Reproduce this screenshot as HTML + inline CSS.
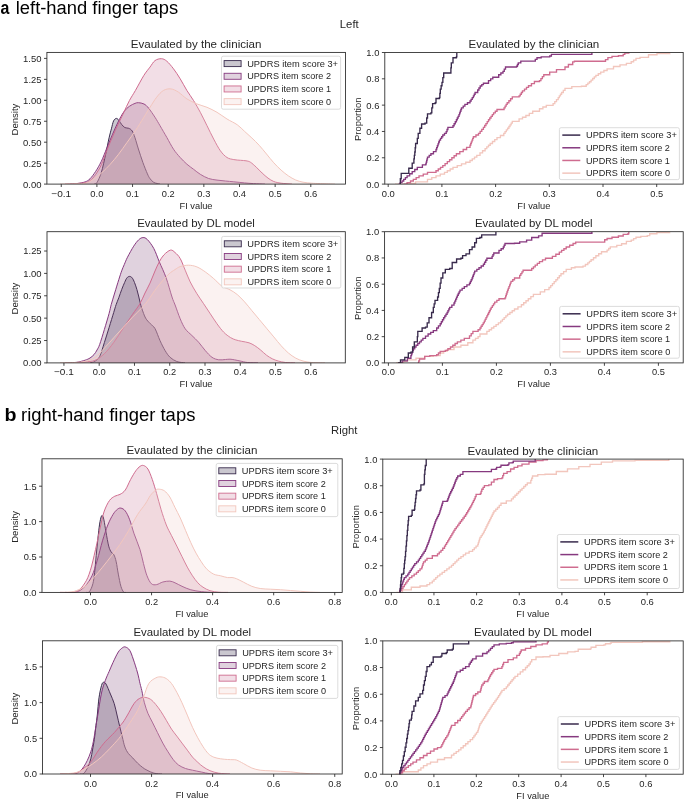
<!DOCTYPE html><html><head><meta charset="utf-8"><style>html,body{margin:0;padding:0;background:#fff;}svg{display:block;filter:blur(0.3px);}text{font-family:"Liberation Sans",sans-serif;}</style></head><body>
<svg width="685" height="800" viewBox="0 0 685 800">
<rect width="685" height="800" fill="#ffffff"/>
<text x="0.43" y="13.90" font-size="17.60" fill="#000" font-weight="bold" textLength="8.87" lengthAdjust="spacingAndGlyphs">a</text>
<text x="15.76" y="13.90" font-size="17.60" fill="#000" font-weight="normal" textLength="162.39" lengthAdjust="spacingAndGlyphs">left-hand finger taps</text>
<text x="4.50" y="420.50" font-size="17.60" fill="#000" font-weight="bold" textLength="12.00" lengthAdjust="spacingAndGlyphs">b</text>
<text x="21.08" y="420.50" font-size="17.60" fill="#000" font-weight="normal" textLength="174.28" lengthAdjust="spacingAndGlyphs">right-hand finger taps</text>
<text x="339.85" y="27.80" font-size="11.05" fill="#262626" font-weight="normal" textLength="18.85" lengthAdjust="spacingAndGlyphs">Left</text>
<text x="331.04" y="433.90" font-size="11.05" fill="#262626" font-weight="normal" textLength="26.48" lengthAdjust="spacingAndGlyphs">Right</text>
<clipPath id="c0"><rect x="46.9" y="52.4" width="298.6" height="131.7"/></clipPath>
<g clip-path="url(#c0)">
<path d="M94.00,184.10 C94.47,183.88 95.58,184.72 96.80,182.80 C98.02,180.88 99.80,177.48 101.30,172.60 C102.80,167.72 104.50,159.30 105.80,153.50 C107.10,147.70 108.17,141.92 109.10,137.80 C110.03,133.68 110.65,131.62 111.40,128.80 C112.15,125.98 112.75,122.63 113.60,120.90 C114.45,119.17 115.55,118.40 116.50,118.40 C117.45,118.40 118.47,119.92 119.30,120.90 C120.13,121.88 120.57,123.18 121.50,124.30 C122.43,125.42 123.68,126.93 124.90,127.60 C126.12,128.27 127.58,127.73 128.80,128.30 C130.02,128.87 131.17,129.42 132.20,131.00 C133.23,132.58 133.97,134.80 135.00,137.80 C136.03,140.80 137.08,144.88 138.40,149.00 C139.72,153.12 141.40,158.37 142.90,162.50 C144.40,166.63 146.22,171.12 147.40,173.80 C148.58,176.48 148.93,177.17 150.00,178.60 C151.07,180.03 152.13,181.48 153.80,182.40 C155.47,183.32 158.97,183.82 160.00,184.10 L160.00,184.10 L94.00,184.10 Z" fill="#2d1e3e" fill-opacity="0.25" stroke="none"/>
<path d="M94.00,184.10 C94.47,183.88 95.58,184.72 96.80,182.80 C98.02,180.88 99.80,177.48 101.30,172.60 C102.80,167.72 104.50,159.30 105.80,153.50 C107.10,147.70 108.17,141.92 109.10,137.80 C110.03,133.68 110.65,131.62 111.40,128.80 C112.15,125.98 112.75,122.63 113.60,120.90 C114.45,119.17 115.55,118.40 116.50,118.40 C117.45,118.40 118.47,119.92 119.30,120.90 C120.13,121.88 120.57,123.18 121.50,124.30 C122.43,125.42 123.68,126.93 124.90,127.60 C126.12,128.27 127.58,127.73 128.80,128.30 C130.02,128.87 131.17,129.42 132.20,131.00 C133.23,132.58 133.97,134.80 135.00,137.80 C136.03,140.80 137.08,144.88 138.40,149.00 C139.72,153.12 141.40,158.37 142.90,162.50 C144.40,166.63 146.22,171.12 147.40,173.80 C148.58,176.48 148.93,177.17 150.00,178.60 C151.07,180.03 152.13,181.48 153.80,182.40 C155.47,183.32 158.97,183.82 160.00,184.10" fill="none" stroke="#382a4c" stroke-width="1.0" stroke-linejoin="round"/>
<path d="M70.00,184.10 C71.17,184.02 74.48,183.97 77.00,183.60 C79.52,183.23 82.93,182.70 85.10,181.90 C87.27,181.10 88.25,180.53 90.00,178.80 C91.75,177.07 93.72,174.40 95.60,171.50 C97.48,168.60 99.42,165.33 101.30,161.40 C103.18,157.47 105.03,152.40 106.90,147.90 C108.77,143.40 110.63,138.72 112.50,134.40 C114.37,130.08 116.22,125.75 118.10,122.00 C119.98,118.25 121.92,114.52 123.80,111.90 C125.68,109.28 127.53,107.72 129.40,106.30 C131.27,104.88 133.50,104.00 135.00,103.40 C136.50,102.80 136.90,102.60 138.40,102.70 C139.90,102.80 142.32,103.12 144.00,104.00 C145.68,104.88 146.67,105.78 148.50,108.00 C150.33,110.22 153.08,114.35 155.00,117.30 C156.92,120.25 158.03,122.35 160.00,125.70 C161.97,129.05 164.55,133.48 166.80,137.40 C169.05,141.32 171.27,145.85 173.50,149.20 C175.73,152.55 177.97,155.00 180.20,157.50 C182.43,160.00 184.67,162.23 186.90,164.20 C189.13,166.17 191.37,167.62 193.60,169.30 C195.83,170.98 197.80,172.77 200.30,174.30 C202.80,175.83 205.82,177.53 208.60,178.50 C211.38,179.47 214.20,179.68 217.00,180.10 C219.80,180.52 222.60,180.72 225.40,181.00 C228.20,181.28 230.60,181.48 233.80,181.80 C237.00,182.12 241.33,182.60 244.60,182.90 C247.87,183.20 250.00,183.40 253.40,183.60 C256.80,183.80 263.07,184.02 265.00,184.10 L265.00,184.10 L70.00,184.10 Z" fill="#834c7d" fill-opacity="0.25" stroke="none"/>
<path d="M70.00,184.10 C71.17,184.02 74.48,183.97 77.00,183.60 C79.52,183.23 82.93,182.70 85.10,181.90 C87.27,181.10 88.25,180.53 90.00,178.80 C91.75,177.07 93.72,174.40 95.60,171.50 C97.48,168.60 99.42,165.33 101.30,161.40 C103.18,157.47 105.03,152.40 106.90,147.90 C108.77,143.40 110.63,138.72 112.50,134.40 C114.37,130.08 116.22,125.75 118.10,122.00 C119.98,118.25 121.92,114.52 123.80,111.90 C125.68,109.28 127.53,107.72 129.40,106.30 C131.27,104.88 133.50,104.00 135.00,103.40 C136.50,102.80 136.90,102.60 138.40,102.70 C139.90,102.80 142.32,103.12 144.00,104.00 C145.68,104.88 146.67,105.78 148.50,108.00 C150.33,110.22 153.08,114.35 155.00,117.30 C156.92,120.25 158.03,122.35 160.00,125.70 C161.97,129.05 164.55,133.48 166.80,137.40 C169.05,141.32 171.27,145.85 173.50,149.20 C175.73,152.55 177.97,155.00 180.20,157.50 C182.43,160.00 184.67,162.23 186.90,164.20 C189.13,166.17 191.37,167.62 193.60,169.30 C195.83,170.98 197.80,172.77 200.30,174.30 C202.80,175.83 205.82,177.53 208.60,178.50 C211.38,179.47 214.20,179.68 217.00,180.10 C219.80,180.52 222.60,180.72 225.40,181.00 C228.20,181.28 230.60,181.48 233.80,181.80 C237.00,182.12 241.33,182.60 244.60,182.90 C247.87,183.20 250.00,183.40 253.40,183.60 C256.80,183.80 263.07,184.02 265.00,184.10" fill="none" stroke="#86397f" stroke-width="1.0" stroke-linejoin="round"/>
<path d="M65.00,184.10 C66.67,184.02 71.65,183.83 75.00,183.60 C78.35,183.37 82.60,183.20 85.10,182.70 C87.60,182.20 88.25,181.97 90.00,180.60 C91.75,179.23 93.72,177.13 95.60,174.50 C97.48,171.87 99.42,168.83 101.30,164.80 C103.18,160.77 105.03,154.97 106.90,150.30 C108.77,145.63 110.63,141.13 112.50,136.80 C114.37,132.47 116.22,128.37 118.10,124.30 C119.98,120.23 121.92,116.35 123.80,112.40 C125.68,108.45 127.47,104.25 129.40,100.60 C131.33,96.95 133.00,94.68 135.40,90.50 C137.80,86.32 141.37,79.40 143.80,75.50 C146.23,71.60 148.13,69.58 150.00,67.10 C151.87,64.62 153.10,62.00 155.00,60.60 C156.90,59.20 159.43,58.60 161.40,58.70 C163.37,58.80 164.78,59.52 166.80,61.20 C168.82,62.88 171.27,65.87 173.50,68.80 C175.73,71.73 177.97,75.18 180.20,78.80 C182.43,82.42 184.67,86.87 186.90,90.50 C189.13,94.13 191.37,96.97 193.60,100.60 C195.83,104.23 198.07,108.12 200.30,112.30 C202.53,116.48 204.77,121.23 207.00,125.70 C209.23,130.17 211.47,134.92 213.70,139.10 C215.93,143.28 218.18,147.73 220.40,150.80 C222.62,153.87 224.77,156.03 227.00,157.50 C229.23,158.97 231.55,159.13 233.80,159.60 C236.05,160.07 238.47,160.10 240.50,160.30 C242.53,160.50 244.35,160.48 246.00,160.80 C247.65,161.12 248.68,161.13 250.40,162.20 C252.12,163.27 254.35,165.40 256.30,167.20 C258.25,169.00 260.15,171.18 262.10,173.00 C264.05,174.82 266.05,176.68 268.00,178.10 C269.95,179.52 271.62,180.65 273.80,181.50 C275.98,182.35 278.07,182.77 281.10,183.20 C284.13,183.63 290.18,183.95 292.00,184.10 L292.00,184.10 L65.00,184.10 Z" fill="#cc7c9a" fill-opacity="0.25" stroke="none"/>
<path d="M65.00,184.10 C66.67,184.02 71.65,183.83 75.00,183.60 C78.35,183.37 82.60,183.20 85.10,182.70 C87.60,182.20 88.25,181.97 90.00,180.60 C91.75,179.23 93.72,177.13 95.60,174.50 C97.48,171.87 99.42,168.83 101.30,164.80 C103.18,160.77 105.03,154.97 106.90,150.30 C108.77,145.63 110.63,141.13 112.50,136.80 C114.37,132.47 116.22,128.37 118.10,124.30 C119.98,120.23 121.92,116.35 123.80,112.40 C125.68,108.45 127.47,104.25 129.40,100.60 C131.33,96.95 133.00,94.68 135.40,90.50 C137.80,86.32 141.37,79.40 143.80,75.50 C146.23,71.60 148.13,69.58 150.00,67.10 C151.87,64.62 153.10,62.00 155.00,60.60 C156.90,59.20 159.43,58.60 161.40,58.70 C163.37,58.80 164.78,59.52 166.80,61.20 C168.82,62.88 171.27,65.87 173.50,68.80 C175.73,71.73 177.97,75.18 180.20,78.80 C182.43,82.42 184.67,86.87 186.90,90.50 C189.13,94.13 191.37,96.97 193.60,100.60 C195.83,104.23 198.07,108.12 200.30,112.30 C202.53,116.48 204.77,121.23 207.00,125.70 C209.23,130.17 211.47,134.92 213.70,139.10 C215.93,143.28 218.18,147.73 220.40,150.80 C222.62,153.87 224.77,156.03 227.00,157.50 C229.23,158.97 231.55,159.13 233.80,159.60 C236.05,160.07 238.47,160.10 240.50,160.30 C242.53,160.50 244.35,160.48 246.00,160.80 C247.65,161.12 248.68,161.13 250.40,162.20 C252.12,163.27 254.35,165.40 256.30,167.20 C258.25,169.00 260.15,171.18 262.10,173.00 C264.05,174.82 266.05,176.68 268.00,178.10 C269.95,179.52 271.62,180.65 273.80,181.50 C275.98,182.35 278.07,182.77 281.10,183.20 C284.13,183.63 290.18,183.95 292.00,184.10" fill="none" stroke="#cf6c8f" stroke-width="1.0" stroke-linejoin="round"/>
<path d="M60.00,184.10 C62.50,184.05 70.82,183.93 75.00,183.80 C79.18,183.67 82.02,184.05 85.10,183.30 C88.18,182.55 90.70,181.08 93.50,179.30 C96.30,177.52 99.10,175.12 101.90,172.60 C104.70,170.08 107.52,167.27 110.30,164.20 C113.08,161.13 115.82,157.82 118.60,154.20 C121.38,150.58 124.20,146.42 127.00,142.50 C129.80,138.58 132.60,134.90 135.40,130.70 C138.20,126.50 141.37,121.20 143.80,117.30 C146.23,113.40 147.85,110.65 150.00,107.30 C152.15,103.95 154.47,100.00 156.70,97.20 C158.93,94.40 161.03,91.88 163.40,90.50 C165.77,89.12 168.38,88.62 170.90,88.90 C173.42,89.18 175.83,90.53 178.50,92.20 C181.17,93.87 183.83,96.95 186.90,98.90 C189.97,100.85 193.55,102.50 196.90,103.90 C200.25,105.30 203.65,105.90 207.00,107.30 C210.35,108.70 213.67,110.35 217.00,112.30 C220.33,114.25 223.62,116.92 227.00,119.00 C230.38,121.08 234.37,122.73 237.30,124.80 C240.23,126.87 242.17,129.20 244.60,131.40 C247.03,133.60 249.47,135.68 251.90,138.00 C254.33,140.32 256.77,142.63 259.20,145.30 C261.63,147.97 264.07,151.08 266.50,154.00 C268.93,156.92 271.37,160.12 273.80,162.80 C276.23,165.48 278.67,167.92 281.10,170.10 C283.53,172.28 285.97,174.25 288.40,175.90 C290.83,177.55 293.27,178.95 295.70,180.00 C298.13,181.05 300.32,181.67 303.00,182.20 C305.68,182.73 308.88,182.97 311.80,183.20 C314.72,183.43 316.63,183.45 320.50,183.60 C324.37,183.75 332.58,184.02 335.00,184.10 L335.00,184.10 L60.00,184.10 Z" fill="#efcdc6" fill-opacity="0.25" stroke="none"/>
<path d="M60.00,184.10 C62.50,184.05 70.82,183.93 75.00,183.80 C79.18,183.67 82.02,184.05 85.10,183.30 C88.18,182.55 90.70,181.08 93.50,179.30 C96.30,177.52 99.10,175.12 101.90,172.60 C104.70,170.08 107.52,167.27 110.30,164.20 C113.08,161.13 115.82,157.82 118.60,154.20 C121.38,150.58 124.20,146.42 127.00,142.50 C129.80,138.58 132.60,134.90 135.40,130.70 C138.20,126.50 141.37,121.20 143.80,117.30 C146.23,113.40 147.85,110.65 150.00,107.30 C152.15,103.95 154.47,100.00 156.70,97.20 C158.93,94.40 161.03,91.88 163.40,90.50 C165.77,89.12 168.38,88.62 170.90,88.90 C173.42,89.18 175.83,90.53 178.50,92.20 C181.17,93.87 183.83,96.95 186.90,98.90 C189.97,100.85 193.55,102.50 196.90,103.90 C200.25,105.30 203.65,105.90 207.00,107.30 C210.35,108.70 213.67,110.35 217.00,112.30 C220.33,114.25 223.62,116.92 227.00,119.00 C230.38,121.08 234.37,122.73 237.30,124.80 C240.23,126.87 242.17,129.20 244.60,131.40 C247.03,133.60 249.47,135.68 251.90,138.00 C254.33,140.32 256.77,142.63 259.20,145.30 C261.63,147.97 264.07,151.08 266.50,154.00 C268.93,156.92 271.37,160.12 273.80,162.80 C276.23,165.48 278.67,167.92 281.10,170.10 C283.53,172.28 285.97,174.25 288.40,175.90 C290.83,177.55 293.27,178.95 295.70,180.00 C298.13,181.05 300.32,181.67 303.00,182.20 C305.68,182.73 308.88,182.97 311.80,183.20 C314.72,183.43 316.63,183.45 320.50,183.60 C324.37,183.75 332.58,184.02 335.00,184.10" fill="none" stroke="#f2c6bd" stroke-width="1.0" stroke-linejoin="round"/>
</g>
<rect x="46.90" y="52.40" width="298.60" height="131.70" fill="none" stroke="#262626" stroke-width="0.85"/>
<line x1="61.25" y1="184.10" x2="61.25" y2="187.00" stroke="#262626" stroke-width="0.85"/>
<text x="51.33" y="196.60" font-size="9.21" fill="#262626" font-weight="normal" textLength="19.83" lengthAdjust="spacingAndGlyphs">−0.1</text>
<line x1="96.90" y1="184.10" x2="96.90" y2="187.00" stroke="#262626" stroke-width="0.85"/>
<text x="90.37" y="196.60" font-size="9.21" fill="#262626" font-weight="normal" textLength="13.05" lengthAdjust="spacingAndGlyphs">0.0</text>
<line x1="132.55" y1="184.10" x2="132.55" y2="187.00" stroke="#262626" stroke-width="0.85"/>
<text x="126.14" y="196.60" font-size="9.21" fill="#262626" font-weight="normal" textLength="12.92" lengthAdjust="spacingAndGlyphs">0.1</text>
<line x1="168.20" y1="184.10" x2="168.20" y2="187.00" stroke="#262626" stroke-width="0.85"/>
<text x="161.82" y="196.60" font-size="9.21" fill="#262626" font-weight="normal" textLength="12.86" lengthAdjust="spacingAndGlyphs">0.2</text>
<line x1="203.85" y1="184.10" x2="203.85" y2="187.00" stroke="#262626" stroke-width="0.85"/>
<text x="197.38" y="196.60" font-size="9.21" fill="#262626" font-weight="normal" textLength="12.98" lengthAdjust="spacingAndGlyphs">0.3</text>
<line x1="239.50" y1="184.10" x2="239.50" y2="187.00" stroke="#262626" stroke-width="0.85"/>
<text x="232.93" y="196.60" font-size="9.21" fill="#262626" font-weight="normal" textLength="13.05" lengthAdjust="spacingAndGlyphs">0.4</text>
<line x1="275.15" y1="184.10" x2="275.15" y2="187.00" stroke="#262626" stroke-width="0.85"/>
<text x="268.72" y="196.60" font-size="9.21" fill="#262626" font-weight="normal" textLength="12.89" lengthAdjust="spacingAndGlyphs">0.5</text>
<line x1="310.80" y1="184.10" x2="310.80" y2="187.00" stroke="#262626" stroke-width="0.85"/>
<text x="304.26" y="196.60" font-size="9.21" fill="#262626" font-weight="normal" textLength="13.13" lengthAdjust="spacingAndGlyphs">0.6</text>
<line x1="44.00" y1="184.10" x2="46.90" y2="184.10" stroke="#262626" stroke-width="0.85"/>
<text x="23.03" y="187.50" font-size="9.21" fill="#262626" font-weight="normal" textLength="18.44" lengthAdjust="spacingAndGlyphs">0.00</text>
<line x1="44.00" y1="163.15" x2="46.90" y2="163.15" stroke="#262626" stroke-width="0.85"/>
<text x="23.21" y="166.55" font-size="9.21" fill="#262626" font-weight="normal" textLength="18.28" lengthAdjust="spacingAndGlyphs">0.25</text>
<line x1="44.00" y1="142.20" x2="46.90" y2="142.20" stroke="#262626" stroke-width="0.85"/>
<text x="23.03" y="145.60" font-size="9.21" fill="#262626" font-weight="normal" textLength="18.44" lengthAdjust="spacingAndGlyphs">0.50</text>
<line x1="44.00" y1="121.25" x2="46.90" y2="121.25" stroke="#262626" stroke-width="0.85"/>
<text x="23.21" y="124.65" font-size="9.21" fill="#262626" font-weight="normal" textLength="18.28" lengthAdjust="spacingAndGlyphs">0.75</text>
<line x1="44.00" y1="100.30" x2="46.90" y2="100.30" stroke="#262626" stroke-width="0.85"/>
<text x="23.05" y="103.70" font-size="9.21" fill="#262626" font-weight="normal" textLength="18.42" lengthAdjust="spacingAndGlyphs">1.00</text>
<line x1="44.00" y1="79.35" x2="46.90" y2="79.35" stroke="#262626" stroke-width="0.85"/>
<text x="23.24" y="82.75" font-size="9.21" fill="#262626" font-weight="normal" textLength="18.26" lengthAdjust="spacingAndGlyphs">1.25</text>
<line x1="44.00" y1="58.40" x2="46.90" y2="58.40" stroke="#262626" stroke-width="0.85"/>
<text x="23.05" y="61.80" font-size="9.21" fill="#262626" font-weight="normal" textLength="18.42" lengthAdjust="spacingAndGlyphs">1.50</text>
<text x="130.70" y="47.80" font-size="11.05" fill="#262626" font-weight="normal" textLength="130.80" lengthAdjust="spacingAndGlyphs">Evaulated by the clinician</text>
<text x="179.52" y="208.50" font-size="9.21" fill="#262626" font-weight="normal" textLength="33.01" lengthAdjust="spacingAndGlyphs">FI value</text>
<text x="1.69" y="119.15" font-size="9.21" fill="#262626" font-weight="normal" textLength="31.84" lengthAdjust="spacingAndGlyphs" transform="rotate(-90 18.00 119.15)">Density</text>
<rect x="221.50" y="56.20" width="119.10" height="53.00" rx="1.7" fill="#ffffff" fill-opacity="0.8" stroke="#d6d6d6" stroke-width="0.85"/>
<rect x="224.10" y="60.60" width="17.0" height="6" fill="#2d1e3e" fill-opacity="0.25" stroke="#382a4c" stroke-width="0.9"/>
<text x="247.18" y="66.80" font-size="9.21" fill="#262626" font-weight="normal" textLength="90.87" lengthAdjust="spacingAndGlyphs">UPDRS item score 3+</text>
<rect x="224.10" y="73.28" width="17.0" height="6" fill="#834c7d" fill-opacity="0.25" stroke="#86397f" stroke-width="0.9"/>
<text x="247.20" y="79.48" font-size="9.21" fill="#262626" font-weight="normal" textLength="83.82" lengthAdjust="spacingAndGlyphs">UPDRS item score 2</text>
<rect x="224.10" y="85.96" width="17.0" height="6" fill="#cc7c9a" fill-opacity="0.25" stroke="#cf6c8f" stroke-width="0.9"/>
<text x="247.20" y="92.16" font-size="9.21" fill="#262626" font-weight="normal" textLength="83.88" lengthAdjust="spacingAndGlyphs">UPDRS item score 1</text>
<rect x="224.10" y="98.64" width="17.0" height="6" fill="#efcdc6" fill-opacity="0.25" stroke="#f2c6bd" stroke-width="0.9"/>
<text x="247.20" y="104.84" font-size="9.21" fill="#262626" font-weight="normal" textLength="84.01" lengthAdjust="spacingAndGlyphs">UPDRS item score 0</text>
<clipPath id="c1"><rect x="384.8" y="52.5" width="298.40000000000003" height="131.6"/></clipPath>
<g clip-path="url(#c1)">
<path d="M395.00,184.10 H407.10 V183.50 H415.60 V181.80 H427.50 V179.30 H431.75 V177.60 H436.00 V175.90 H440.25 V174.15 H444.50 V172.40 H447.33 V170.70 H450.17 V169.00 H453.00 V167.30 H457.25 V165.60 H461.50 V163.90 H465.75 V162.20 H470.00 V160.50 H472.27 V158.80 H474.53 V157.10 H476.80 V155.40 H480.00 V152.90 H482.55 V150.75 H485.10 V148.60 H486.80 V146.90 H488.50 V145.20 H490.20 V143.50 H492.47 V141.53 H494.73 V139.57 H497.00 V137.60 H500.40 V135.45 H503.80 V133.30 H505.07 V131.60 H506.35 V129.90 H507.62 V128.20 H508.90 V126.50 H510.03 V124.80 H511.17 V123.10 H512.30 V121.40 H519.10 V118.90 H522.50 V117.20 H525.90 V115.50 H529.30 V113.35 H532.70 V111.20 H539.50 V108.70 H542.90 V107.00 H546.30 V105.30 H553.10 V103.60 H554.80 V101.60 H556.50 V99.60 H558.20 V97.60 H559.33 V95.90 H560.47 V94.20 H561.60 V92.50 H563.30 V90.40 H565.00 V88.30 H571.80 V86.60 H581.40 V86.20 H586.20 V84.60 H587.85 V83.15 H589.50 V81.70 H591.10 V80.10 H592.70 V78.50 H594.30 V76.90 H595.90 V75.30 H598.30 V73.70 H600.70 V72.10 H603.90 V70.50 H607.10 V68.90 H613.50 V66.50 H620.00 V64.90 H626.40 V63.30 H631.20 V61.70 H633.60 V60.05 H636.00 V58.40 H640.00 V57.40 H648.50 V54.70 H657.00 V53.50 H670.00 V53.40" fill="none" stroke="#f2c6bd" stroke-width="1.35" stroke-linejoin="miter"/>
<path d="M403.70,184.10 H407.10 V182.55 H410.50 V181.00 H413.33 V179.30 H416.17 V177.60 H419.00 V175.90 H423.25 V174.15 H427.50 V172.40 H436.00 V170.70 H438.27 V169.00 H440.53 V167.30 H442.80 V165.60 H445.07 V163.63 H447.33 V161.67 H449.60 V159.70 H451.87 V157.70 H454.13 V155.70 H456.40 V153.70 H459.80 V151.60 H463.20 V149.50 H466.60 V147.35 H470.00 V145.20 H470.68 V143.50 H471.36 V141.80 H472.04 V140.10 H472.72 V138.40 H473.40 V136.70 H475.95 V135.00 H478.50 V133.30 H480.13 V131.33 H481.77 V129.37 H483.40 V127.40 H484.67 V125.48 H485.95 V123.55 H487.23 V121.62 H488.50 V119.70 H489.77 V118.00 H491.05 V116.30 H492.33 V114.60 H493.60 V112.90 H495.30 V111.20 H497.00 V109.50 H503.00 V109.50 H504.05 V107.80 H505.10 V106.10 H506.15 V104.40 H507.20 V102.70 H508.90 V100.73 H510.60 V98.77 H512.30 V96.80 H519.10 V95.90 H520.23 V94.20 H521.37 V92.50 H522.50 V90.80 H524.50 V89.10 H526.50 V87.40 H528.50 V85.70 H531.45 V83.60 H534.40 V81.50 H539.50 V80.60 H540.93 V78.63 H542.37 V76.67 H543.80 V74.70 H549.70 V72.10 H556.50 V69.60 H565.00 V67.00 H568.40 V64.50 H572.70 V61.90 H574.40 V61.20 H603.90 V61.20 H605.50 V59.60 H607.90 V57.60 H612.00 V56.40 H618.40 V55.70 H623.20 V54.40 H624.80 V53.10 H628.80 V52.50" fill="none" stroke="#cf6c8f" stroke-width="1.35" stroke-linejoin="miter"/>
<path d="M398.60,184.10 H400.30 V182.55 H402.00 V181.00 H403.70 V179.30 H405.40 V177.60 H407.10 V175.90 H409.65 V173.75 H412.20 V171.60 H414.75 V169.45 H417.30 V167.30 H422.40 V164.80 H425.80 V163.90 H426.23 V162.20 H426.65 V160.50 H427.07 V158.80 H427.50 V157.10 H429.20 V155.40 H430.90 V153.70 H433.45 V151.60 H436.00 V149.50 H436.68 V147.62 H437.36 V145.74 H438.04 V143.86 H438.72 V141.98 H439.40 V140.10 H440.53 V138.40 H441.67 V136.70 H442.80 V135.00 H444.50 V133.30 H446.20 V131.60 H447.05 V129.50 H447.90 V127.40 H453.00 V125.70 H454.13 V123.70 H455.27 V121.70 H456.40 V119.70 H457.27 V118.00 H458.13 V116.30 H459.00 V114.60 H459.62 V112.90 H460.25 V111.20 H460.88 V109.50 H461.50 V107.80 H463.20 V106.10 H464.90 V104.40 H467.45 V102.70 H470.00 V101.00 H471.13 V99.30 H472.27 V97.60 H473.40 V95.90 H474.25 V94.20 H475.10 V92.50 H477.70 V90.00 H478.95 V88.00 H480.20 V86.00 H481.80 V84.60 H483.40 V83.20 H488.50 V80.60 H490.65 V78.90 H492.80 V77.20 H498.70 V74.70 H500.85 V73.00 H503.00 V71.30 H504.25 V69.15 H505.50 V67.00 H516.60 V66.20 H517.45 V64.50 H518.30 V62.80 H520.80 V61.10 H535.30 V59.40 H537.00 V57.70 H541.20 V56.80 H549.70 V56.00 H551.40 V54.40 H591.00 V54.40 H591.90 V52.50" fill="none" stroke="#86397f" stroke-width="1.35" stroke-linejoin="miter"/>
<path d="M399.50,184.10 H400.35 V178.70 H401.20 V173.30 H408.00 V173.30 H408.80 V168.20 H411.40 V168.20 H412.20 V163.10 H413.90 V158.80 H414.35 V155.40 H414.80 V152.00 H415.20 V147.75 H415.60 V143.50 H417.30 V138.40 H418.20 V133.30 H419.90 V128.20 H421.60 V124.00 H425.00 V123.10 H426.70 V118.00 H427.50 V113.80 H430.90 V112.90 H431.80 V107.80 H432.60 V103.60 H435.20 V102.70 H436.00 V98.50 H439.40 V97.60 H439.85 V93.35 H440.30 V89.10 H441.15 V85.70 H442.00 V82.30 H442.85 V77.65 H443.70 V73.00 H450.50 V73.00 H450.90 V67.90 H451.30 V62.80 H453.00 V57.70 H456.40 V56.80 H456.80 V52.50" fill="none" stroke="#382a4c" stroke-width="1.35" stroke-linejoin="miter"/>
</g>
<rect x="384.80" y="52.50" width="298.40" height="131.60" fill="none" stroke="#262626" stroke-width="0.85"/>
<line x1="388.20" y1="184.10" x2="388.20" y2="187.00" stroke="#262626" stroke-width="0.85"/>
<text x="381.67" y="196.60" font-size="9.21" fill="#262626" font-weight="normal" textLength="13.05" lengthAdjust="spacingAndGlyphs">0.0</text>
<line x1="441.90" y1="184.10" x2="441.90" y2="187.00" stroke="#262626" stroke-width="0.85"/>
<text x="435.49" y="196.60" font-size="9.21" fill="#262626" font-weight="normal" textLength="12.92" lengthAdjust="spacingAndGlyphs">0.1</text>
<line x1="495.60" y1="184.10" x2="495.60" y2="187.00" stroke="#262626" stroke-width="0.85"/>
<text x="489.22" y="196.60" font-size="9.21" fill="#262626" font-weight="normal" textLength="12.86" lengthAdjust="spacingAndGlyphs">0.2</text>
<line x1="549.30" y1="184.10" x2="549.30" y2="187.00" stroke="#262626" stroke-width="0.85"/>
<text x="542.83" y="196.60" font-size="9.21" fill="#262626" font-weight="normal" textLength="12.98" lengthAdjust="spacingAndGlyphs">0.3</text>
<line x1="603.00" y1="184.10" x2="603.00" y2="187.00" stroke="#262626" stroke-width="0.85"/>
<text x="596.43" y="196.60" font-size="9.21" fill="#262626" font-weight="normal" textLength="13.05" lengthAdjust="spacingAndGlyphs">0.4</text>
<line x1="656.70" y1="184.10" x2="656.70" y2="187.00" stroke="#262626" stroke-width="0.85"/>
<text x="650.27" y="196.60" font-size="9.21" fill="#262626" font-weight="normal" textLength="12.89" lengthAdjust="spacingAndGlyphs">0.5</text>
<line x1="381.90" y1="184.10" x2="384.80" y2="184.10" stroke="#262626" stroke-width="0.85"/>
<text x="366.31" y="187.50" font-size="9.21" fill="#262626" font-weight="normal" textLength="13.05" lengthAdjust="spacingAndGlyphs">0.0</text>
<line x1="381.90" y1="157.78" x2="384.80" y2="157.78" stroke="#262626" stroke-width="0.85"/>
<text x="366.60" y="161.18" font-size="9.21" fill="#262626" font-weight="normal" textLength="12.86" lengthAdjust="spacingAndGlyphs">0.2</text>
<line x1="381.90" y1="131.46" x2="384.80" y2="131.46" stroke="#262626" stroke-width="0.85"/>
<text x="366.23" y="134.86" font-size="9.21" fill="#262626" font-weight="normal" textLength="13.05" lengthAdjust="spacingAndGlyphs">0.4</text>
<line x1="381.90" y1="105.14" x2="384.80" y2="105.14" stroke="#262626" stroke-width="0.85"/>
<text x="366.28" y="108.54" font-size="9.21" fill="#262626" font-weight="normal" textLength="13.13" lengthAdjust="spacingAndGlyphs">0.6</text>
<line x1="381.90" y1="78.82" x2="384.80" y2="78.82" stroke="#262626" stroke-width="0.85"/>
<text x="366.33" y="82.22" font-size="9.21" fill="#262626" font-weight="normal" textLength="13.08" lengthAdjust="spacingAndGlyphs">0.8</text>
<line x1="381.90" y1="52.50" x2="384.80" y2="52.50" stroke="#262626" stroke-width="0.85"/>
<text x="366.34" y="55.90" font-size="9.21" fill="#262626" font-weight="normal" textLength="13.03" lengthAdjust="spacingAndGlyphs">1.0</text>
<text x="468.50" y="47.90" font-size="11.05" fill="#262626" font-weight="normal" textLength="130.80" lengthAdjust="spacingAndGlyphs">Evaulated by the clinician</text>
<text x="517.32" y="208.50" font-size="9.21" fill="#262626" font-weight="normal" textLength="33.01" lengthAdjust="spacingAndGlyphs">FI value</text>
<text x="339.30" y="119.20" font-size="9.21" fill="#262626" font-weight="normal" textLength="43.43" lengthAdjust="spacingAndGlyphs" transform="rotate(-90 361.10 119.20)">Proportion</text>
<rect x="559.40" y="127.70" width="120.00" height="51.90" rx="1.7" fill="#ffffff" fill-opacity="0.8" stroke="#d6d6d6" stroke-width="0.85"/>
<line x1="562.30" y1="135.10" x2="580.30" y2="135.10" stroke="#382a4c" stroke-width="1.5"/>
<text x="585.98" y="138.30" font-size="9.21" fill="#262626" font-weight="normal" textLength="90.87" lengthAdjust="spacingAndGlyphs">UPDRS item score 3+</text>
<line x1="562.30" y1="147.78" x2="580.30" y2="147.78" stroke="#86397f" stroke-width="1.5"/>
<text x="586.00" y="150.98" font-size="9.21" fill="#262626" font-weight="normal" textLength="83.82" lengthAdjust="spacingAndGlyphs">UPDRS item score 2</text>
<line x1="562.30" y1="160.46" x2="580.30" y2="160.46" stroke="#cf6c8f" stroke-width="1.5"/>
<text x="586.00" y="163.66" font-size="9.21" fill="#262626" font-weight="normal" textLength="83.88" lengthAdjust="spacingAndGlyphs">UPDRS item score 1</text>
<line x1="562.30" y1="173.14" x2="580.30" y2="173.14" stroke="#f2c6bd" stroke-width="1.5"/>
<text x="586.00" y="176.34" font-size="9.21" fill="#262626" font-weight="normal" textLength="84.01" lengthAdjust="spacingAndGlyphs">UPDRS item score 0</text>
<clipPath id="c2"><rect x="47.0" y="231.7" width="298.3" height="131.2"/></clipPath>
<g clip-path="url(#c2)">
<path d="M90.00,362.90 C90.83,362.62 93.38,362.27 95.00,361.20 C96.62,360.13 98.13,359.62 99.70,356.50 C101.27,353.38 102.83,347.33 104.40,342.50 C105.97,337.67 107.55,332.50 109.10,327.50 C110.65,322.50 112.53,316.30 113.70,312.50 C114.87,308.70 115.25,307.17 116.10,304.70 C116.95,302.23 117.87,300.23 118.80,297.70 C119.73,295.17 120.73,292.03 121.70,289.50 C122.67,286.97 123.73,284.43 124.60,282.50 C125.47,280.57 126.07,278.92 126.90,277.90 C127.73,276.88 128.72,276.40 129.60,276.40 C130.48,276.40 131.38,276.88 132.20,277.90 C133.02,278.92 133.72,280.57 134.50,282.50 C135.28,284.43 136.22,287.25 136.90,289.50 C137.58,291.75 138.07,293.85 138.60,296.00 C139.13,298.15 139.55,300.28 140.10,302.40 C140.65,304.52 140.98,306.08 141.90,308.70 C142.82,311.32 144.20,315.60 145.60,318.10 C147.00,320.60 148.73,321.95 150.30,323.70 C151.87,325.45 153.38,325.78 155.00,328.60 C156.62,331.42 158.32,336.93 160.00,340.60 C161.68,344.27 163.42,347.82 165.10,350.60 C166.78,353.38 168.15,355.48 170.10,357.30 C172.05,359.12 174.32,360.57 176.80,361.50 C179.28,362.43 183.63,362.67 185.00,362.90 L185.00,362.90 L90.00,362.90 Z" fill="#2d1e3e" fill-opacity="0.25" stroke="none"/>
<path d="M90.00,362.90 C90.83,362.62 93.38,362.27 95.00,361.20 C96.62,360.13 98.13,359.62 99.70,356.50 C101.27,353.38 102.83,347.33 104.40,342.50 C105.97,337.67 107.55,332.50 109.10,327.50 C110.65,322.50 112.53,316.30 113.70,312.50 C114.87,308.70 115.25,307.17 116.10,304.70 C116.95,302.23 117.87,300.23 118.80,297.70 C119.73,295.17 120.73,292.03 121.70,289.50 C122.67,286.97 123.73,284.43 124.60,282.50 C125.47,280.57 126.07,278.92 126.90,277.90 C127.73,276.88 128.72,276.40 129.60,276.40 C130.48,276.40 131.38,276.88 132.20,277.90 C133.02,278.92 133.72,280.57 134.50,282.50 C135.28,284.43 136.22,287.25 136.90,289.50 C137.58,291.75 138.07,293.85 138.60,296.00 C139.13,298.15 139.55,300.28 140.10,302.40 C140.65,304.52 140.98,306.08 141.90,308.70 C142.82,311.32 144.20,315.60 145.60,318.10 C147.00,320.60 148.73,321.95 150.30,323.70 C151.87,325.45 153.38,325.78 155.00,328.60 C156.62,331.42 158.32,336.93 160.00,340.60 C161.68,344.27 163.42,347.82 165.10,350.60 C166.78,353.38 168.15,355.48 170.10,357.30 C172.05,359.12 174.32,360.57 176.80,361.50 C179.28,362.43 183.63,362.67 185.00,362.90" fill="none" stroke="#382a4c" stroke-width="1.0" stroke-linejoin="round"/>
<path d="M68.00,362.90 C69.45,362.80 73.85,362.75 76.70,362.30 C79.55,361.85 82.88,360.92 85.10,360.20 C87.32,359.48 88.52,358.93 90.00,358.00 C91.48,357.07 92.83,355.93 94.00,354.60 C95.17,353.27 96.05,351.70 97.00,350.00 C97.95,348.30 98.47,347.83 99.70,344.40 C100.93,340.97 102.83,334.57 104.40,329.40 C105.97,324.23 107.97,317.52 109.10,313.40 C110.23,309.28 110.27,308.10 111.20,304.70 C112.13,301.30 113.43,297.18 114.70,293.00 C115.97,288.82 117.63,283.30 118.80,279.60 C119.97,275.90 120.78,273.32 121.70,270.80 C122.62,268.28 123.33,266.77 124.30,264.50 C125.27,262.23 125.93,260.25 127.50,257.20 C129.07,254.15 131.83,249.10 133.70,246.20 C135.57,243.30 137.17,241.23 138.70,239.80 C140.23,238.37 141.47,237.65 142.90,237.60 C144.33,237.55 145.48,237.68 147.30,239.50 C149.12,241.32 151.80,244.78 153.80,248.50 C155.80,252.22 157.27,256.97 159.30,261.80 C161.33,266.63 163.88,271.63 166.00,277.50 C168.12,283.37 170.48,292.42 172.00,297.00 C173.52,301.58 173.73,301.37 175.10,305.00 C176.47,308.63 178.52,314.83 180.20,318.80 C181.88,322.77 183.25,326.02 185.20,328.80 C187.15,331.58 189.67,333.27 191.90,335.50 C194.13,337.73 196.37,339.68 198.60,342.20 C200.83,344.72 203.07,348.08 205.30,350.60 C207.53,353.12 209.77,355.77 212.00,357.30 C214.23,358.83 216.47,359.43 218.70,359.80 C220.93,360.17 223.52,359.60 225.40,359.50 C227.28,359.40 228.50,359.15 230.00,359.20 C231.50,359.25 232.70,359.50 234.40,359.80 C236.10,360.10 238.02,360.55 240.20,361.00 C242.38,361.45 244.53,362.18 247.50,362.50 C250.47,362.82 256.25,362.83 258.00,362.90 L258.00,362.90 L68.00,362.90 Z" fill="#834c7d" fill-opacity="0.25" stroke="none"/>
<path d="M68.00,362.90 C69.45,362.80 73.85,362.75 76.70,362.30 C79.55,361.85 82.88,360.92 85.10,360.20 C87.32,359.48 88.52,358.93 90.00,358.00 C91.48,357.07 92.83,355.93 94.00,354.60 C95.17,353.27 96.05,351.70 97.00,350.00 C97.95,348.30 98.47,347.83 99.70,344.40 C100.93,340.97 102.83,334.57 104.40,329.40 C105.97,324.23 107.97,317.52 109.10,313.40 C110.23,309.28 110.27,308.10 111.20,304.70 C112.13,301.30 113.43,297.18 114.70,293.00 C115.97,288.82 117.63,283.30 118.80,279.60 C119.97,275.90 120.78,273.32 121.70,270.80 C122.62,268.28 123.33,266.77 124.30,264.50 C125.27,262.23 125.93,260.25 127.50,257.20 C129.07,254.15 131.83,249.10 133.70,246.20 C135.57,243.30 137.17,241.23 138.70,239.80 C140.23,238.37 141.47,237.65 142.90,237.60 C144.33,237.55 145.48,237.68 147.30,239.50 C149.12,241.32 151.80,244.78 153.80,248.50 C155.80,252.22 157.27,256.97 159.30,261.80 C161.33,266.63 163.88,271.63 166.00,277.50 C168.12,283.37 170.48,292.42 172.00,297.00 C173.52,301.58 173.73,301.37 175.10,305.00 C176.47,308.63 178.52,314.83 180.20,318.80 C181.88,322.77 183.25,326.02 185.20,328.80 C187.15,331.58 189.67,333.27 191.90,335.50 C194.13,337.73 196.37,339.68 198.60,342.20 C200.83,344.72 203.07,348.08 205.30,350.60 C207.53,353.12 209.77,355.77 212.00,357.30 C214.23,358.83 216.47,359.43 218.70,359.80 C220.93,360.17 223.52,359.60 225.40,359.50 C227.28,359.40 228.50,359.15 230.00,359.20 C231.50,359.25 232.70,359.50 234.40,359.80 C236.10,360.10 238.02,360.55 240.20,361.00 C242.38,361.45 244.53,362.18 247.50,362.50 C250.47,362.82 256.25,362.83 258.00,362.90" fill="none" stroke="#86397f" stroke-width="1.0" stroke-linejoin="round"/>
<path d="M65.00,362.90 C66.83,362.85 72.65,362.77 76.00,362.60 C79.35,362.43 81.93,362.28 85.10,361.90 C88.27,361.52 91.78,361.67 95.00,360.30 C98.22,358.93 101.28,356.67 104.40,353.70 C107.52,350.73 110.58,346.72 113.70,342.50 C116.82,338.28 119.97,333.08 123.10,328.40 C126.23,323.72 129.68,318.53 132.50,314.40 C135.32,310.27 137.92,307.17 140.00,303.60 C142.08,300.03 143.33,296.42 145.00,293.00 C146.67,289.58 148.33,286.77 150.00,283.10 C151.67,279.43 153.45,274.55 155.00,271.00 C156.55,267.45 157.83,264.47 159.30,261.80 C160.77,259.13 161.93,256.95 163.80,255.00 C165.67,253.05 168.62,250.50 170.50,250.10 C172.38,249.70 173.48,251.20 175.10,252.60 C176.72,254.00 178.52,255.57 180.20,258.50 C181.88,261.43 183.53,266.30 185.20,270.20 C186.87,274.10 188.25,277.98 190.20,281.90 C192.15,285.82 194.67,290.07 196.90,293.70 C199.13,297.33 201.37,300.35 203.60,303.70 C205.83,307.05 208.07,310.45 210.30,313.80 C212.53,317.15 214.77,320.73 217.00,323.80 C219.23,326.87 221.47,329.92 223.70,332.20 C225.93,334.48 228.38,336.22 230.40,337.50 C232.42,338.78 233.92,339.27 235.80,339.90 C237.68,340.53 239.50,340.82 241.70,341.30 C243.90,341.78 246.82,342.07 249.00,342.80 C251.18,343.53 252.85,344.48 254.80,345.70 C256.75,346.92 258.75,348.52 260.70,350.10 C262.65,351.68 264.57,353.75 266.50,355.20 C268.43,356.65 270.35,357.83 272.30,358.80 C274.25,359.77 276.00,360.38 278.20,361.00 C280.40,361.62 282.70,362.18 285.50,362.50 C288.30,362.82 293.42,362.83 295.00,362.90 L295.00,362.90 L65.00,362.90 Z" fill="#cc7c9a" fill-opacity="0.25" stroke="none"/>
<path d="M65.00,362.90 C66.83,362.85 72.65,362.77 76.00,362.60 C79.35,362.43 81.93,362.28 85.10,361.90 C88.27,361.52 91.78,361.67 95.00,360.30 C98.22,358.93 101.28,356.67 104.40,353.70 C107.52,350.73 110.58,346.72 113.70,342.50 C116.82,338.28 119.97,333.08 123.10,328.40 C126.23,323.72 129.68,318.53 132.50,314.40 C135.32,310.27 137.92,307.17 140.00,303.60 C142.08,300.03 143.33,296.42 145.00,293.00 C146.67,289.58 148.33,286.77 150.00,283.10 C151.67,279.43 153.45,274.55 155.00,271.00 C156.55,267.45 157.83,264.47 159.30,261.80 C160.77,259.13 161.93,256.95 163.80,255.00 C165.67,253.05 168.62,250.50 170.50,250.10 C172.38,249.70 173.48,251.20 175.10,252.60 C176.72,254.00 178.52,255.57 180.20,258.50 C181.88,261.43 183.53,266.30 185.20,270.20 C186.87,274.10 188.25,277.98 190.20,281.90 C192.15,285.82 194.67,290.07 196.90,293.70 C199.13,297.33 201.37,300.35 203.60,303.70 C205.83,307.05 208.07,310.45 210.30,313.80 C212.53,317.15 214.77,320.73 217.00,323.80 C219.23,326.87 221.47,329.92 223.70,332.20 C225.93,334.48 228.38,336.22 230.40,337.50 C232.42,338.78 233.92,339.27 235.80,339.90 C237.68,340.53 239.50,340.82 241.70,341.30 C243.90,341.78 246.82,342.07 249.00,342.80 C251.18,343.53 252.85,344.48 254.80,345.70 C256.75,346.92 258.75,348.52 260.70,350.10 C262.65,351.68 264.57,353.75 266.50,355.20 C268.43,356.65 270.35,357.83 272.30,358.80 C274.25,359.77 276.00,360.38 278.20,361.00 C280.40,361.62 282.70,362.18 285.50,362.50 C288.30,362.82 293.42,362.83 295.00,362.90" fill="none" stroke="#cf6c8f" stroke-width="1.0" stroke-linejoin="round"/>
<path d="M60.00,362.90 C62.50,362.83 70.82,362.77 75.00,362.50 C79.18,362.23 81.77,362.13 85.10,361.30 C88.43,360.47 91.78,359.70 95.00,357.50 C98.22,355.30 101.28,351.38 104.40,348.10 C107.52,344.82 110.58,341.23 113.70,337.80 C116.82,334.37 119.97,330.93 123.10,327.50 C126.23,324.07 129.53,320.33 132.50,317.20 C135.47,314.07 138.40,311.37 140.90,308.70 C143.40,306.03 145.19,304.23 147.50,301.20 C149.81,298.17 152.42,293.70 154.75,290.50 C157.08,287.30 159.12,284.77 161.50,282.00 C163.88,279.23 166.75,275.97 169.00,273.90 C171.25,271.83 173.13,270.82 175.00,269.60 C176.87,268.38 177.95,267.33 180.20,266.60 C182.45,265.87 185.72,265.15 188.50,265.20 C191.28,265.25 194.10,265.78 196.90,266.90 C199.70,268.02 202.50,269.95 205.30,271.90 C208.10,273.85 210.92,276.22 213.70,278.60 C216.48,280.98 219.28,284.33 222.00,286.20 C224.72,288.07 227.45,288.40 230.00,289.80 C232.55,291.20 234.87,292.58 237.30,294.60 C239.73,296.62 242.17,299.22 244.60,301.90 C247.03,304.58 249.47,307.78 251.90,310.70 C254.33,313.62 256.77,316.48 259.20,319.40 C261.63,322.32 264.07,325.28 266.50,328.20 C268.93,331.12 271.37,333.98 273.80,336.90 C276.23,339.82 278.67,343.02 281.10,345.70 C283.53,348.38 285.97,350.93 288.40,353.00 C290.83,355.07 293.27,356.77 295.70,358.10 C298.13,359.43 300.32,360.27 303.00,361.00 C305.68,361.73 308.13,362.18 311.80,362.50 C315.47,362.82 322.80,362.83 325.00,362.90 L325.00,362.90 L60.00,362.90 Z" fill="#efcdc6" fill-opacity="0.25" stroke="none"/>
<path d="M60.00,362.90 C62.50,362.83 70.82,362.77 75.00,362.50 C79.18,362.23 81.77,362.13 85.10,361.30 C88.43,360.47 91.78,359.70 95.00,357.50 C98.22,355.30 101.28,351.38 104.40,348.10 C107.52,344.82 110.58,341.23 113.70,337.80 C116.82,334.37 119.97,330.93 123.10,327.50 C126.23,324.07 129.53,320.33 132.50,317.20 C135.47,314.07 138.40,311.37 140.90,308.70 C143.40,306.03 145.19,304.23 147.50,301.20 C149.81,298.17 152.42,293.70 154.75,290.50 C157.08,287.30 159.12,284.77 161.50,282.00 C163.88,279.23 166.75,275.97 169.00,273.90 C171.25,271.83 173.13,270.82 175.00,269.60 C176.87,268.38 177.95,267.33 180.20,266.60 C182.45,265.87 185.72,265.15 188.50,265.20 C191.28,265.25 194.10,265.78 196.90,266.90 C199.70,268.02 202.50,269.95 205.30,271.90 C208.10,273.85 210.92,276.22 213.70,278.60 C216.48,280.98 219.28,284.33 222.00,286.20 C224.72,288.07 227.45,288.40 230.00,289.80 C232.55,291.20 234.87,292.58 237.30,294.60 C239.73,296.62 242.17,299.22 244.60,301.90 C247.03,304.58 249.47,307.78 251.90,310.70 C254.33,313.62 256.77,316.48 259.20,319.40 C261.63,322.32 264.07,325.28 266.50,328.20 C268.93,331.12 271.37,333.98 273.80,336.90 C276.23,339.82 278.67,343.02 281.10,345.70 C283.53,348.38 285.97,350.93 288.40,353.00 C290.83,355.07 293.27,356.77 295.70,358.10 C298.13,359.43 300.32,360.27 303.00,361.00 C305.68,361.73 308.13,362.18 311.80,362.50 C315.47,362.82 322.80,362.83 325.00,362.90" fill="none" stroke="#f2c6bd" stroke-width="1.0" stroke-linejoin="round"/>
</g>
<rect x="47.00" y="231.70" width="298.30" height="131.20" fill="none" stroke="#262626" stroke-width="0.85"/>
<line x1="63.93" y1="362.90" x2="63.93" y2="365.80" stroke="#262626" stroke-width="0.85"/>
<text x="54.01" y="375.40" font-size="9.21" fill="#262626" font-weight="normal" textLength="19.83" lengthAdjust="spacingAndGlyphs">−0.1</text>
<line x1="99.20" y1="362.90" x2="99.20" y2="365.80" stroke="#262626" stroke-width="0.85"/>
<text x="92.67" y="375.40" font-size="9.21" fill="#262626" font-weight="normal" textLength="13.05" lengthAdjust="spacingAndGlyphs">0.0</text>
<line x1="134.47" y1="362.90" x2="134.47" y2="365.80" stroke="#262626" stroke-width="0.85"/>
<text x="128.06" y="375.40" font-size="9.21" fill="#262626" font-weight="normal" textLength="12.92" lengthAdjust="spacingAndGlyphs">0.1</text>
<line x1="169.74" y1="362.90" x2="169.74" y2="365.80" stroke="#262626" stroke-width="0.85"/>
<text x="163.36" y="375.40" font-size="9.21" fill="#262626" font-weight="normal" textLength="12.86" lengthAdjust="spacingAndGlyphs">0.2</text>
<line x1="205.01" y1="362.90" x2="205.01" y2="365.80" stroke="#262626" stroke-width="0.85"/>
<text x="198.54" y="375.40" font-size="9.21" fill="#262626" font-weight="normal" textLength="12.98" lengthAdjust="spacingAndGlyphs">0.3</text>
<line x1="240.28" y1="362.90" x2="240.28" y2="365.80" stroke="#262626" stroke-width="0.85"/>
<text x="233.71" y="375.40" font-size="9.21" fill="#262626" font-weight="normal" textLength="13.05" lengthAdjust="spacingAndGlyphs">0.4</text>
<line x1="275.55" y1="362.90" x2="275.55" y2="365.80" stroke="#262626" stroke-width="0.85"/>
<text x="269.12" y="375.40" font-size="9.21" fill="#262626" font-weight="normal" textLength="12.89" lengthAdjust="spacingAndGlyphs">0.5</text>
<line x1="310.82" y1="362.90" x2="310.82" y2="365.80" stroke="#262626" stroke-width="0.85"/>
<text x="304.28" y="375.40" font-size="9.21" fill="#262626" font-weight="normal" textLength="13.13" lengthAdjust="spacingAndGlyphs">0.6</text>
<line x1="44.10" y1="362.90" x2="47.00" y2="362.90" stroke="#262626" stroke-width="0.85"/>
<text x="23.13" y="366.30" font-size="9.21" fill="#262626" font-weight="normal" textLength="18.44" lengthAdjust="spacingAndGlyphs">0.00</text>
<line x1="44.10" y1="340.52" x2="47.00" y2="340.52" stroke="#262626" stroke-width="0.85"/>
<text x="23.31" y="343.92" font-size="9.21" fill="#262626" font-weight="normal" textLength="18.28" lengthAdjust="spacingAndGlyphs">0.25</text>
<line x1="44.10" y1="318.15" x2="47.00" y2="318.15" stroke="#262626" stroke-width="0.85"/>
<text x="23.13" y="321.55" font-size="9.21" fill="#262626" font-weight="normal" textLength="18.44" lengthAdjust="spacingAndGlyphs">0.50</text>
<line x1="44.10" y1="295.77" x2="47.00" y2="295.77" stroke="#262626" stroke-width="0.85"/>
<text x="23.31" y="299.17" font-size="9.21" fill="#262626" font-weight="normal" textLength="18.28" lengthAdjust="spacingAndGlyphs">0.75</text>
<line x1="44.10" y1="273.40" x2="47.00" y2="273.40" stroke="#262626" stroke-width="0.85"/>
<text x="23.15" y="276.80" font-size="9.21" fill="#262626" font-weight="normal" textLength="18.42" lengthAdjust="spacingAndGlyphs">1.00</text>
<line x1="44.10" y1="251.02" x2="47.00" y2="251.02" stroke="#262626" stroke-width="0.85"/>
<text x="23.34" y="254.42" font-size="9.21" fill="#262626" font-weight="normal" textLength="18.26" lengthAdjust="spacingAndGlyphs">1.25</text>
<text x="137.25" y="227.10" font-size="11.05" fill="#262626" font-weight="normal" textLength="117.61" lengthAdjust="spacingAndGlyphs">Evaulated by DL model</text>
<text x="179.47" y="387.30" font-size="9.21" fill="#262626" font-weight="normal" textLength="33.01" lengthAdjust="spacingAndGlyphs">FI value</text>
<text x="1.69" y="298.20" font-size="9.21" fill="#262626" font-weight="normal" textLength="31.84" lengthAdjust="spacingAndGlyphs" transform="rotate(-90 18.00 298.20)">Density</text>
<rect x="221.70" y="236.40" width="119.10" height="51.60" rx="1.7" fill="#ffffff" fill-opacity="0.8" stroke="#d6d6d6" stroke-width="0.85"/>
<rect x="224.30" y="240.80" width="17.0" height="6" fill="#2d1e3e" fill-opacity="0.25" stroke="#382a4c" stroke-width="0.9"/>
<text x="247.38" y="247.00" font-size="9.21" fill="#262626" font-weight="normal" textLength="90.87" lengthAdjust="spacingAndGlyphs">UPDRS item score 3+</text>
<rect x="224.30" y="253.48" width="17.0" height="6" fill="#834c7d" fill-opacity="0.25" stroke="#86397f" stroke-width="0.9"/>
<text x="247.40" y="259.68" font-size="9.21" fill="#262626" font-weight="normal" textLength="83.82" lengthAdjust="spacingAndGlyphs">UPDRS item score 2</text>
<rect x="224.30" y="266.16" width="17.0" height="6" fill="#cc7c9a" fill-opacity="0.25" stroke="#cf6c8f" stroke-width="0.9"/>
<text x="247.40" y="272.36" font-size="9.21" fill="#262626" font-weight="normal" textLength="83.88" lengthAdjust="spacingAndGlyphs">UPDRS item score 1</text>
<rect x="224.30" y="278.84" width="17.0" height="6" fill="#efcdc6" fill-opacity="0.25" stroke="#f2c6bd" stroke-width="0.9"/>
<text x="247.40" y="285.04" font-size="9.21" fill="#262626" font-weight="normal" textLength="84.01" lengthAdjust="spacingAndGlyphs">UPDRS item score 0</text>
<clipPath id="c3"><rect x="384.6" y="231.7" width="298.6" height="131.2"/></clipPath>
<g clip-path="url(#c3)">
<path d="M396.00,362.90 H399.70 V362.90 H403.55 V361.40 H407.40 V359.90 H416.00 V358.20 H424.70 V356.40 H433.30 V355.60 H440.20 V353.00 H443.65 V351.30 H447.10 V349.60 H454.00 V347.00 H460.90 V345.20 H467.80 V342.70 H472.90 V340.10 H475.50 V338.35 H478.10 V336.60 H480.00 V334.00 H486.90 V331.40 H489.20 V329.70 H491.50 V328.00 H493.80 V326.30 H496.10 V324.57 H498.40 V322.83 H500.70 V321.10 H502.43 V319.38 H504.15 V317.65 H505.88 V315.93 H507.60 V314.20 H509.90 V312.47 H512.20 V310.73 H514.50 V309.00 H517.95 V306.85 H521.40 V304.70 H523.70 V302.70 H526.00 V300.70 H528.30 V298.70 H530.85 V296.55 H533.40 V294.40 H540.30 V291.80 H544.65 V289.65 H549.00 V287.50 H550.73 V285.55 H552.45 V283.60 H554.17 V281.65 H555.90 V279.70 H557.60 V277.70 H559.30 V275.70 H561.00 V273.70 H563.60 V271.55 H566.20 V269.40 H571.40 V267.70 H575.00 V267.00 H583.00 V266.10 H585.40 V264.50 H587.80 V262.90 H589.45 V261.30 H591.10 V259.70 H593.50 V257.70 H595.90 V255.70 H598.70 V253.70 H601.50 V251.70 H607.10 V250.10 H608.70 V248.50 H610.30 V246.90 H616.80 V245.30 H621.60 V243.70 H626.40 V241.30 H631.20 V240.10 H633.60 V238.65 H636.00 V237.20 H640.80 V236.40 H647.30 V235.60 H649.70 V233.70 H656.90 V232.60 H669.70 V232.30" fill="none" stroke="#f2c6bd" stroke-width="1.35" stroke-linejoin="miter"/>
<path d="M417.80,362.90 H418.65 V360.95 H419.50 V359.00 H424.70 V356.40 H429.80 V355.60 H436.70 V354.70 H438.45 V353.00 H440.20 V351.30 H445.30 V350.40 H447.90 V348.70 H450.50 V347.00 H452.80 V345.27 H455.10 V343.53 H457.40 V341.80 H460.85 V340.05 H464.30 V338.30 H469.50 V335.80 H471.20 V333.60 H472.90 V331.40 H478.10 V329.70 H480.00 V328.00 H481.07 V326.27 H482.15 V324.55 H483.23 V322.83 H484.30 V321.10 H485.16 V319.38 H486.02 V317.66 H486.88 V315.94 H487.74 V314.22 H488.60 V312.50 H489.47 V310.77 H490.33 V309.03 H491.20 V307.30 H492.37 V305.57 H493.53 V303.83 H494.70 V302.10 H496.85 V300.40 H499.00 V298.70 H505.00 V297.80 H505.65 V295.88 H506.30 V293.95 H506.95 V292.03 H507.60 V290.10 H508.28 V288.36 H508.96 V286.62 H509.64 V284.88 H510.32 V283.14 H511.00 V281.40 H512.75 V279.70 H514.50 V278.00 H519.70 V275.40 H520.83 V273.67 H521.97 V271.93 H523.10 V270.20 H531.70 V268.50 H533.45 V266.80 H535.20 V265.10 H537.35 V263.35 H539.50 V261.60 H542.50 V259.90 H545.50 V258.20 H552.40 V256.40 H555.85 V254.25 H559.30 V252.10 H561.60 V250.40 H563.90 V248.70 H566.20 V247.00 H569.65 V245.25 H573.10 V243.50 H575.70 V242.10 H603.10 V242.10 H604.70 V239.70 H607.10 V238.50 H612.00 V237.20 H618.40 V236.00 H623.20 V234.40 H628.00 V233.70 H628.80 V231.70" fill="none" stroke="#cf6c8f" stroke-width="1.35" stroke-linejoin="miter"/>
<path d="M398.80,362.90 H402.20 V360.80 H407.40 V358.20 H410.90 V355.60 H411.52 V353.88 H412.15 V352.15 H412.77 V350.43 H413.40 V348.70 H414.70 V346.95 H416.00 V345.20 H417.75 V343.50 H419.50 V341.80 H421.20 V340.05 H422.90 V338.30 H425.50 V336.15 H428.10 V334.00 H430.70 V332.30 H433.30 V330.60 H436.70 V328.00 H438.45 V325.85 H440.20 V323.70 H441.33 V321.70 H442.47 V319.70 H443.60 V317.70 H444.77 V315.97 H445.93 V314.23 H447.10 V312.50 H447.97 V310.77 H448.83 V309.03 H449.70 V307.30 H451.85 V305.15 H454.00 V303.00 H454.85 V301.05 H455.70 V299.10 H456.55 V297.15 H457.40 V295.20 H458.27 V293.50 H459.13 V291.80 H460.00 V290.10 H462.15 V288.35 H464.30 V286.60 H466.90 V284.90 H469.50 V283.20 H470.37 V281.47 H471.23 V279.73 H472.10 V278.00 H472.75 V276.27 H473.40 V274.55 H474.05 V272.83 H474.70 V271.10 H476.85 V269.40 H479.00 V267.70 H481.20 V265.95 H483.40 V264.20 H484.57 V262.20 H485.73 V260.20 H486.90 V258.20 H492.10 V256.40 H492.95 V254.70 H493.80 V253.00 H499.00 V250.40 H501.15 V248.70 H503.30 V247.00 H504.15 V245.25 H505.00 V243.50 H514.50 V243.20 H519.70 V241.80 H526.60 V240.10 H531.70 V237.50 H538.60 V235.80 H542.10 V233.20 H591.00 V233.20 H591.90 V231.70" fill="none" stroke="#86397f" stroke-width="1.35" stroke-linejoin="miter"/>
<path d="M397.90,362.90 H400.50 V359.90 H404.80 V357.30 H408.30 V353.00 H410.90 V352.10 H412.60 V347.00 H414.30 V341.80 H416.90 V341.80 H417.35 V336.60 H417.80 V331.40 H421.20 V331.40 H422.10 V328.00 H425.50 V327.10 H427.20 V322.80 H429.00 V317.70 H431.60 V312.50 H433.30 V307.30 H434.15 V303.85 H435.00 V300.40 H437.60 V297.00 H438.45 V292.65 H439.30 V288.30 H440.15 V283.15 H441.00 V278.00 H442.80 V272.80 H445.30 V269.40 H449.70 V268.50 H452.20 V262.50 H456.60 V259.00 H460.90 V258.20 H462.60 V255.60 H466.00 V253.90 H469.50 V249.60 H472.10 V247.00 H474.70 V242.70 H476.40 V238.30 H479.80 V237.50 H481.70 V234.90 H495.50 V234.90 H495.90 V231.70" fill="none" stroke="#382a4c" stroke-width="1.35" stroke-linejoin="miter"/>
</g>
<rect x="384.60" y="231.70" width="298.60" height="131.20" fill="none" stroke="#262626" stroke-width="0.85"/>
<line x1="388.40" y1="362.90" x2="388.40" y2="365.80" stroke="#262626" stroke-width="0.85"/>
<text x="381.87" y="375.40" font-size="9.21" fill="#262626" font-weight="normal" textLength="13.05" lengthAdjust="spacingAndGlyphs">0.0</text>
<line x1="442.40" y1="362.90" x2="442.40" y2="365.80" stroke="#262626" stroke-width="0.85"/>
<text x="435.99" y="375.40" font-size="9.21" fill="#262626" font-weight="normal" textLength="12.92" lengthAdjust="spacingAndGlyphs">0.1</text>
<line x1="496.40" y1="362.90" x2="496.40" y2="365.80" stroke="#262626" stroke-width="0.85"/>
<text x="490.02" y="375.40" font-size="9.21" fill="#262626" font-weight="normal" textLength="12.86" lengthAdjust="spacingAndGlyphs">0.2</text>
<line x1="550.40" y1="362.90" x2="550.40" y2="365.80" stroke="#262626" stroke-width="0.85"/>
<text x="543.93" y="375.40" font-size="9.21" fill="#262626" font-weight="normal" textLength="12.98" lengthAdjust="spacingAndGlyphs">0.3</text>
<line x1="604.40" y1="362.90" x2="604.40" y2="365.80" stroke="#262626" stroke-width="0.85"/>
<text x="597.83" y="375.40" font-size="9.21" fill="#262626" font-weight="normal" textLength="13.05" lengthAdjust="spacingAndGlyphs">0.4</text>
<line x1="658.40" y1="362.90" x2="658.40" y2="365.80" stroke="#262626" stroke-width="0.85"/>
<text x="651.97" y="375.40" font-size="9.21" fill="#262626" font-weight="normal" textLength="12.89" lengthAdjust="spacingAndGlyphs">0.5</text>
<line x1="381.70" y1="362.90" x2="384.60" y2="362.90" stroke="#262626" stroke-width="0.85"/>
<text x="366.11" y="366.30" font-size="9.21" fill="#262626" font-weight="normal" textLength="13.05" lengthAdjust="spacingAndGlyphs">0.0</text>
<line x1="381.70" y1="336.66" x2="384.60" y2="336.66" stroke="#262626" stroke-width="0.85"/>
<text x="366.40" y="340.06" font-size="9.21" fill="#262626" font-weight="normal" textLength="12.86" lengthAdjust="spacingAndGlyphs">0.2</text>
<line x1="381.70" y1="310.42" x2="384.60" y2="310.42" stroke="#262626" stroke-width="0.85"/>
<text x="366.03" y="313.82" font-size="9.21" fill="#262626" font-weight="normal" textLength="13.05" lengthAdjust="spacingAndGlyphs">0.4</text>
<line x1="381.70" y1="284.18" x2="384.60" y2="284.18" stroke="#262626" stroke-width="0.85"/>
<text x="366.08" y="287.58" font-size="9.21" fill="#262626" font-weight="normal" textLength="13.13" lengthAdjust="spacingAndGlyphs">0.6</text>
<line x1="381.70" y1="257.94" x2="384.60" y2="257.94" stroke="#262626" stroke-width="0.85"/>
<text x="366.13" y="261.34" font-size="9.21" fill="#262626" font-weight="normal" textLength="13.08" lengthAdjust="spacingAndGlyphs">0.8</text>
<line x1="381.70" y1="231.70" x2="384.60" y2="231.70" stroke="#262626" stroke-width="0.85"/>
<text x="366.14" y="235.10" font-size="9.21" fill="#262626" font-weight="normal" textLength="13.03" lengthAdjust="spacingAndGlyphs">1.0</text>
<text x="475.00" y="227.10" font-size="11.05" fill="#262626" font-weight="normal" textLength="117.61" lengthAdjust="spacingAndGlyphs">Evaulated by DL model</text>
<text x="517.22" y="387.30" font-size="9.21" fill="#262626" font-weight="normal" textLength="33.01" lengthAdjust="spacingAndGlyphs">FI value</text>
<text x="339.30" y="298.20" font-size="9.21" fill="#262626" font-weight="normal" textLength="43.43" lengthAdjust="spacingAndGlyphs" transform="rotate(-90 361.10 298.20)">Proportion</text>
<rect x="559.70" y="306.40" width="119.70" height="51.80" rx="1.7" fill="#ffffff" fill-opacity="0.8" stroke="#d6d6d6" stroke-width="0.85"/>
<line x1="562.60" y1="313.80" x2="580.60" y2="313.80" stroke="#382a4c" stroke-width="1.5"/>
<text x="586.28" y="317.00" font-size="9.21" fill="#262626" font-weight="normal" textLength="90.87" lengthAdjust="spacingAndGlyphs">UPDRS item score 3+</text>
<line x1="562.60" y1="326.48" x2="580.60" y2="326.48" stroke="#86397f" stroke-width="1.5"/>
<text x="586.30" y="329.68" font-size="9.21" fill="#262626" font-weight="normal" textLength="83.82" lengthAdjust="spacingAndGlyphs">UPDRS item score 2</text>
<line x1="562.60" y1="339.16" x2="580.60" y2="339.16" stroke="#cf6c8f" stroke-width="1.5"/>
<text x="586.30" y="342.36" font-size="9.21" fill="#262626" font-weight="normal" textLength="83.88" lengthAdjust="spacingAndGlyphs">UPDRS item score 1</text>
<line x1="562.60" y1="351.84" x2="580.60" y2="351.84" stroke="#f2c6bd" stroke-width="1.5"/>
<text x="586.30" y="355.04" font-size="9.21" fill="#262626" font-weight="normal" textLength="84.01" lengthAdjust="spacingAndGlyphs">UPDRS item score 0</text>
<clipPath id="c4"><rect x="42.0" y="458.8" width="300.2" height="133.59999999999997"/></clipPath>
<g clip-path="url(#c4)">
<path d="M86.00,592.40 C86.58,592.27 88.35,593.05 89.50,591.60 C90.65,590.15 92.05,586.90 92.90,583.70 C93.75,580.50 94.05,577.08 94.60,572.40 C95.15,567.72 95.65,561.22 96.20,555.60 C96.75,549.98 97.33,543.95 97.90,538.70 C98.47,533.45 99.05,527.75 99.60,524.10 C100.15,520.45 100.73,518.20 101.20,516.80 C101.67,515.40 101.95,515.20 102.40,515.70 C102.85,516.20 103.30,517.07 103.90,519.80 C104.50,522.53 105.20,527.72 106.00,532.10 C106.80,536.48 107.82,542.75 108.70,546.10 C109.58,549.45 110.43,550.75 111.30,552.20 C112.17,553.65 113.08,553.20 113.90,554.80 C114.72,556.40 115.47,558.58 116.20,561.80 C116.93,565.02 117.52,570.02 118.30,574.10 C119.08,578.18 120.02,583.32 120.90,586.30 C121.78,589.28 122.75,590.98 123.60,592.00 C124.45,593.02 125.60,592.33 126.00,592.40 L126.00,592.40 L86.00,592.40 Z" fill="#2d1e3e" fill-opacity="0.25" stroke="none"/>
<path d="M86.00,592.40 C86.58,592.27 88.35,593.05 89.50,591.60 C90.65,590.15 92.05,586.90 92.90,583.70 C93.75,580.50 94.05,577.08 94.60,572.40 C95.15,567.72 95.65,561.22 96.20,555.60 C96.75,549.98 97.33,543.95 97.90,538.70 C98.47,533.45 99.05,527.75 99.60,524.10 C100.15,520.45 100.73,518.20 101.20,516.80 C101.67,515.40 101.95,515.20 102.40,515.70 C102.85,516.20 103.30,517.07 103.90,519.80 C104.50,522.53 105.20,527.72 106.00,532.10 C106.80,536.48 107.82,542.75 108.70,546.10 C109.58,549.45 110.43,550.75 111.30,552.20 C112.17,553.65 113.08,553.20 113.90,554.80 C114.72,556.40 115.47,558.58 116.20,561.80 C116.93,565.02 117.52,570.02 118.30,574.10 C119.08,578.18 120.02,583.32 120.90,586.30 C121.78,589.28 122.75,590.98 123.60,592.00 C124.45,593.02 125.60,592.33 126.00,592.40" fill="none" stroke="#382a4c" stroke-width="1.0" stroke-linejoin="round"/>
<path d="M65.00,592.40 C66.88,592.37 72.97,593.22 76.30,592.20 C79.63,591.18 82.38,589.03 85.00,586.30 C87.62,583.57 89.95,580.17 92.00,575.80 C94.05,571.43 95.55,565.93 97.30,560.10 C99.05,554.27 100.75,546.65 102.50,540.80 C104.25,534.95 106.05,529.38 107.80,525.00 C109.55,520.62 111.40,517.12 113.00,514.50 C114.60,511.88 116.08,510.37 117.40,509.30 C118.72,508.23 119.58,507.82 120.90,508.10 C122.22,508.38 123.83,509.05 125.30,511.00 C126.77,512.95 128.23,516.00 129.70,519.80 C131.17,523.60 132.38,528.83 134.10,533.80 C135.82,538.77 138.43,544.63 140.00,549.60 C141.57,554.57 142.33,559.23 143.50,563.60 C144.67,567.97 145.68,572.45 147.00,575.80 C148.32,579.15 149.80,582.23 151.40,583.70 C153.00,585.17 154.70,584.88 156.60,584.60 C158.50,584.32 160.60,582.58 162.80,582.00 C165.00,581.42 167.77,580.97 169.80,581.10 C171.83,581.23 172.97,581.93 175.00,582.80 C177.03,583.67 179.37,585.13 182.00,586.30 C184.63,587.47 187.58,588.92 190.80,589.80 C194.02,590.68 197.77,591.17 201.30,591.60 C204.83,592.03 210.22,592.27 212.00,592.40 L212.00,592.40 L65.00,592.40 Z" fill="#834c7d" fill-opacity="0.25" stroke="none"/>
<path d="M65.00,592.40 C66.88,592.37 72.97,593.22 76.30,592.20 C79.63,591.18 82.38,589.03 85.00,586.30 C87.62,583.57 89.95,580.17 92.00,575.80 C94.05,571.43 95.55,565.93 97.30,560.10 C99.05,554.27 100.75,546.65 102.50,540.80 C104.25,534.95 106.05,529.38 107.80,525.00 C109.55,520.62 111.40,517.12 113.00,514.50 C114.60,511.88 116.08,510.37 117.40,509.30 C118.72,508.23 119.58,507.82 120.90,508.10 C122.22,508.38 123.83,509.05 125.30,511.00 C126.77,512.95 128.23,516.00 129.70,519.80 C131.17,523.60 132.38,528.83 134.10,533.80 C135.82,538.77 138.43,544.63 140.00,549.60 C141.57,554.57 142.33,559.23 143.50,563.60 C144.67,567.97 145.68,572.45 147.00,575.80 C148.32,579.15 149.80,582.23 151.40,583.70 C153.00,585.17 154.70,584.88 156.60,584.60 C158.50,584.32 160.60,582.58 162.80,582.00 C165.00,581.42 167.77,580.97 169.80,581.10 C171.83,581.23 172.97,581.93 175.00,582.80 C177.03,583.67 179.37,585.13 182.00,586.30 C184.63,587.47 187.58,588.92 190.80,589.80 C194.02,590.68 197.77,591.17 201.30,591.60 C204.83,592.03 210.22,592.27 212.00,592.40" fill="none" stroke="#86397f" stroke-width="1.0" stroke-linejoin="round"/>
<path d="M60.00,592.40 C62.72,592.27 72.13,593.20 76.30,591.60 C80.47,590.00 82.67,586.30 85.00,582.80 C87.33,579.30 88.55,576.13 90.30,570.60 C92.05,565.07 93.75,557.20 95.50,549.60 C97.25,542.00 99.33,531.43 100.80,525.00 C102.27,518.57 102.85,515.08 104.30,511.00 C105.75,506.92 107.75,502.97 109.50,500.50 C111.25,498.03 113.05,497.22 114.80,496.20 C116.55,495.18 118.25,495.43 120.00,494.40 C121.75,493.37 123.53,492.48 125.30,490.00 C127.07,487.52 128.85,482.70 130.60,479.50 C132.35,476.30 134.23,472.98 135.80,470.80 C137.37,468.62 138.72,467.28 140.00,466.40 C141.28,465.52 142.18,465.07 143.50,465.50 C144.82,465.93 146.43,466.67 147.90,469.00 C149.37,471.33 150.85,475.42 152.30,479.50 C153.75,483.58 155.15,488.53 156.60,493.50 C158.05,498.47 159.38,504.05 161.00,509.30 C162.62,514.55 164.55,520.62 166.30,525.00 C168.05,529.38 169.75,532.08 171.50,535.60 C173.25,539.12 175.05,542.60 176.80,546.10 C178.55,549.60 180.25,553.10 182.00,556.60 C183.75,560.10 185.55,563.90 187.30,567.10 C189.05,570.30 190.75,573.18 192.50,575.80 C194.25,578.42 196.05,580.90 197.80,582.80 C199.55,584.70 200.97,585.88 203.00,587.20 C205.03,588.52 207.37,589.87 210.00,590.70 C212.63,591.53 215.80,591.92 218.80,592.20 C221.80,592.48 226.47,592.37 228.00,592.40 L228.00,592.40 L60.00,592.40 Z" fill="#cc7c9a" fill-opacity="0.25" stroke="none"/>
<path d="M60.00,592.40 C62.72,592.27 72.13,593.20 76.30,591.60 C80.47,590.00 82.67,586.30 85.00,582.80 C87.33,579.30 88.55,576.13 90.30,570.60 C92.05,565.07 93.75,557.20 95.50,549.60 C97.25,542.00 99.33,531.43 100.80,525.00 C102.27,518.57 102.85,515.08 104.30,511.00 C105.75,506.92 107.75,502.97 109.50,500.50 C111.25,498.03 113.05,497.22 114.80,496.20 C116.55,495.18 118.25,495.43 120.00,494.40 C121.75,493.37 123.53,492.48 125.30,490.00 C127.07,487.52 128.85,482.70 130.60,479.50 C132.35,476.30 134.23,472.98 135.80,470.80 C137.37,468.62 138.72,467.28 140.00,466.40 C141.28,465.52 142.18,465.07 143.50,465.50 C144.82,465.93 146.43,466.67 147.90,469.00 C149.37,471.33 150.85,475.42 152.30,479.50 C153.75,483.58 155.15,488.53 156.60,493.50 C158.05,498.47 159.38,504.05 161.00,509.30 C162.62,514.55 164.55,520.62 166.30,525.00 C168.05,529.38 169.75,532.08 171.50,535.60 C173.25,539.12 175.05,542.60 176.80,546.10 C178.55,549.60 180.25,553.10 182.00,556.60 C183.75,560.10 185.55,563.90 187.30,567.10 C189.05,570.30 190.75,573.18 192.50,575.80 C194.25,578.42 196.05,580.90 197.80,582.80 C199.55,584.70 200.97,585.88 203.00,587.20 C205.03,588.52 207.37,589.87 210.00,590.70 C212.63,591.53 215.80,591.92 218.80,592.20 C221.80,592.48 226.47,592.37 228.00,592.40" fill="none" stroke="#cf6c8f" stroke-width="1.0" stroke-linejoin="round"/>
<path d="M60.00,592.40 C61.67,592.33 67.28,592.30 70.00,592.00 C72.72,591.70 73.80,591.55 76.30,590.60 C78.80,589.65 82.08,588.48 85.00,586.30 C87.92,584.12 90.88,580.68 93.80,577.50 C96.72,574.32 99.58,570.78 102.50,567.20 C105.42,563.62 108.38,559.82 111.30,556.00 C114.22,552.18 117.08,548.58 120.00,544.30 C122.92,540.02 125.87,535.27 128.80,530.30 C131.73,525.33 134.85,518.88 137.60,514.50 C140.35,510.12 143.15,507.20 145.30,504.00 C147.45,500.80 148.75,497.63 150.50,495.30 C152.25,492.97 154.33,491.02 155.80,490.00 C157.27,488.98 157.85,489.05 159.30,489.20 C160.75,489.35 162.75,489.60 164.50,490.90 C166.25,492.20 168.05,494.23 169.80,497.00 C171.55,499.77 173.25,504.00 175.00,507.50 C176.75,511.00 178.55,514.20 180.30,518.00 C182.05,521.80 183.75,526.20 185.50,530.30 C187.25,534.40 189.05,538.80 190.80,542.60 C192.55,546.40 194.25,549.90 196.00,553.10 C197.75,556.30 199.55,559.18 201.30,561.80 C203.05,564.42 204.45,566.75 206.50,568.80 C208.55,570.85 211.25,572.93 213.60,574.10 C215.95,575.27 218.27,575.22 220.60,575.80 C222.93,576.38 225.70,577.32 227.60,577.60 C229.50,577.88 230.48,577.30 232.00,577.50 C233.52,577.70 234.80,578.03 236.70,578.80 C238.60,579.57 240.88,580.85 243.40,582.10 C245.92,583.35 249.00,585.23 251.80,586.30 C254.60,587.37 257.12,588.02 260.20,588.50 C263.28,588.98 266.93,589.00 270.30,589.20 C273.67,589.40 277.05,589.48 280.40,589.70 C283.75,589.92 287.05,590.23 290.40,590.50 C293.75,590.77 297.13,591.03 300.50,591.30 C303.87,591.57 307.35,591.92 310.60,592.10 C313.85,592.28 318.43,592.35 320.00,592.40 L320.00,592.40 L60.00,592.40 Z" fill="#efcdc6" fill-opacity="0.25" stroke="none"/>
<path d="M60.00,592.40 C61.67,592.33 67.28,592.30 70.00,592.00 C72.72,591.70 73.80,591.55 76.30,590.60 C78.80,589.65 82.08,588.48 85.00,586.30 C87.92,584.12 90.88,580.68 93.80,577.50 C96.72,574.32 99.58,570.78 102.50,567.20 C105.42,563.62 108.38,559.82 111.30,556.00 C114.22,552.18 117.08,548.58 120.00,544.30 C122.92,540.02 125.87,535.27 128.80,530.30 C131.73,525.33 134.85,518.88 137.60,514.50 C140.35,510.12 143.15,507.20 145.30,504.00 C147.45,500.80 148.75,497.63 150.50,495.30 C152.25,492.97 154.33,491.02 155.80,490.00 C157.27,488.98 157.85,489.05 159.30,489.20 C160.75,489.35 162.75,489.60 164.50,490.90 C166.25,492.20 168.05,494.23 169.80,497.00 C171.55,499.77 173.25,504.00 175.00,507.50 C176.75,511.00 178.55,514.20 180.30,518.00 C182.05,521.80 183.75,526.20 185.50,530.30 C187.25,534.40 189.05,538.80 190.80,542.60 C192.55,546.40 194.25,549.90 196.00,553.10 C197.75,556.30 199.55,559.18 201.30,561.80 C203.05,564.42 204.45,566.75 206.50,568.80 C208.55,570.85 211.25,572.93 213.60,574.10 C215.95,575.27 218.27,575.22 220.60,575.80 C222.93,576.38 225.70,577.32 227.60,577.60 C229.50,577.88 230.48,577.30 232.00,577.50 C233.52,577.70 234.80,578.03 236.70,578.80 C238.60,579.57 240.88,580.85 243.40,582.10 C245.92,583.35 249.00,585.23 251.80,586.30 C254.60,587.37 257.12,588.02 260.20,588.50 C263.28,588.98 266.93,589.00 270.30,589.20 C273.67,589.40 277.05,589.48 280.40,589.70 C283.75,589.92 287.05,590.23 290.40,590.50 C293.75,590.77 297.13,591.03 300.50,591.30 C303.87,591.57 307.35,591.92 310.60,592.10 C313.85,592.28 318.43,592.35 320.00,592.40" fill="none" stroke="#f2c6bd" stroke-width="1.0" stroke-linejoin="round"/>
</g>
<rect x="42.00" y="458.80" width="300.20" height="133.60" fill="none" stroke="#262626" stroke-width="0.85"/>
<line x1="90.50" y1="592.40" x2="90.50" y2="595.30" stroke="#262626" stroke-width="0.85"/>
<text x="83.97" y="604.90" font-size="9.21" fill="#262626" font-weight="normal" textLength="13.05" lengthAdjust="spacingAndGlyphs">0.0</text>
<line x1="151.56" y1="592.40" x2="151.56" y2="595.30" stroke="#262626" stroke-width="0.85"/>
<text x="145.18" y="604.90" font-size="9.21" fill="#262626" font-weight="normal" textLength="12.86" lengthAdjust="spacingAndGlyphs">0.2</text>
<line x1="212.62" y1="592.40" x2="212.62" y2="595.30" stroke="#262626" stroke-width="0.85"/>
<text x="206.05" y="604.90" font-size="9.21" fill="#262626" font-weight="normal" textLength="13.05" lengthAdjust="spacingAndGlyphs">0.4</text>
<line x1="273.68" y1="592.40" x2="273.68" y2="595.30" stroke="#262626" stroke-width="0.85"/>
<text x="267.14" y="604.90" font-size="9.21" fill="#262626" font-weight="normal" textLength="13.13" lengthAdjust="spacingAndGlyphs">0.6</text>
<line x1="334.74" y1="592.40" x2="334.74" y2="595.30" stroke="#262626" stroke-width="0.85"/>
<text x="328.22" y="604.90" font-size="9.21" fill="#262626" font-weight="normal" textLength="13.08" lengthAdjust="spacingAndGlyphs">0.8</text>
<line x1="39.10" y1="592.40" x2="42.00" y2="592.40" stroke="#262626" stroke-width="0.85"/>
<text x="23.51" y="595.80" font-size="9.21" fill="#262626" font-weight="normal" textLength="13.05" lengthAdjust="spacingAndGlyphs">0.0</text>
<line x1="39.10" y1="557.00" x2="42.00" y2="557.00" stroke="#262626" stroke-width="0.85"/>
<text x="23.69" y="560.40" font-size="9.21" fill="#262626" font-weight="normal" textLength="12.89" lengthAdjust="spacingAndGlyphs">0.5</text>
<line x1="39.10" y1="521.60" x2="42.00" y2="521.60" stroke="#262626" stroke-width="0.85"/>
<text x="23.54" y="525.00" font-size="9.21" fill="#262626" font-weight="normal" textLength="13.03" lengthAdjust="spacingAndGlyphs">1.0</text>
<line x1="39.10" y1="486.20" x2="42.00" y2="486.20" stroke="#262626" stroke-width="0.85"/>
<text x="23.72" y="489.60" font-size="9.21" fill="#262626" font-weight="normal" textLength="12.86" lengthAdjust="spacingAndGlyphs">1.5</text>
<text x="126.60" y="454.20" font-size="11.05" fill="#262626" font-weight="normal" textLength="130.80" lengthAdjust="spacingAndGlyphs">Evaulated by the clinician</text>
<text x="175.42" y="616.80" font-size="9.21" fill="#262626" font-weight="normal" textLength="33.01" lengthAdjust="spacingAndGlyphs">FI value</text>
<text x="1.69" y="526.50" font-size="9.21" fill="#262626" font-weight="normal" textLength="31.84" lengthAdjust="spacingAndGlyphs" transform="rotate(-90 18.00 526.50)">Density</text>
<rect x="216.20" y="463.40" width="121.60" height="53.20" rx="1.7" fill="#ffffff" fill-opacity="0.8" stroke="#d6d6d6" stroke-width="0.85"/>
<rect x="218.80" y="467.80" width="17.0" height="6" fill="#2d1e3e" fill-opacity="0.25" stroke="#382a4c" stroke-width="0.9"/>
<text x="241.88" y="474.00" font-size="9.21" fill="#262626" font-weight="normal" textLength="90.87" lengthAdjust="spacingAndGlyphs">UPDRS item score 3+</text>
<rect x="218.80" y="480.48" width="17.0" height="6" fill="#834c7d" fill-opacity="0.25" stroke="#86397f" stroke-width="0.9"/>
<text x="241.90" y="486.68" font-size="9.21" fill="#262626" font-weight="normal" textLength="83.82" lengthAdjust="spacingAndGlyphs">UPDRS item score 2</text>
<rect x="218.80" y="493.16" width="17.0" height="6" fill="#cc7c9a" fill-opacity="0.25" stroke="#cf6c8f" stroke-width="0.9"/>
<text x="241.90" y="499.36" font-size="9.21" fill="#262626" font-weight="normal" textLength="83.88" lengthAdjust="spacingAndGlyphs">UPDRS item score 1</text>
<rect x="218.80" y="505.84" width="17.0" height="6" fill="#efcdc6" fill-opacity="0.25" stroke="#f2c6bd" stroke-width="0.9"/>
<text x="241.90" y="512.04" font-size="9.21" fill="#262626" font-weight="normal" textLength="84.01" lengthAdjust="spacingAndGlyphs">UPDRS item score 0</text>
<clipPath id="c5"><rect x="382.8" y="459.1" width="300.40000000000003" height="133.29999999999995"/></clipPath>
<g clip-path="url(#c5)">
<path d="M396.40,592.40 H402.50 V589.80 H411.30 V587.20 H420.00 V586.00 H427.00 V584.60 H429.65 V582.85 H432.30 V581.10 H434.03 V579.33 H435.77 V577.57 H437.50 V575.80 H439.83 V574.07 H442.17 V572.33 H444.50 V570.60 H446.83 V568.83 H449.17 V567.07 H451.50 V565.30 H453.27 V563.55 H455.05 V561.80 H456.83 V560.05 H458.60 V558.30 H460.93 V556.57 H463.27 V554.83 H465.60 V553.10 H469.10 V551.35 H472.60 V549.60 H474.33 V547.83 H476.07 V546.07 H477.80 V544.30 H478.35 V542.55 H478.90 V540.80 H479.45 V539.05 H480.00 V537.30 H481.17 V535.57 H482.33 V533.83 H483.50 V532.10 H484.38 V530.33 H485.25 V528.55 H486.12 V526.77 H487.00 V525.00 H487.88 V523.25 H488.75 V521.50 H489.62 V519.75 H490.50 V518.00 H491.38 V516.25 H492.25 V514.50 H493.12 V512.75 H494.00 V511.00 H495.75 V509.25 H497.50 V507.50 H499.25 V505.35 H501.00 V503.20 H506.30 V500.90 H511.50 V498.80 H513.27 V497.03 H515.03 V495.27 H516.80 V493.50 H518.53 V491.77 H520.27 V490.03 H522.00 V488.30 H523.77 V486.53 H525.53 V484.77 H527.30 V483.00 H530.80 V480.40 H531.65 V478.20 H532.50 V476.00 H537.80 V474.60 H545.00 V474.20 H556.30 V471.50 H567.50 V468.80 H578.80 V466.60 H590.00 V464.30 H601.30 V462.10 H612.50 V460.90 H635.00 V460.30 H668.80 V459.10" fill="none" stroke="#f2c6bd" stroke-width="1.35" stroke-linejoin="miter"/>
<path d="M399.00,592.40 H400.32 V590.45 H401.65 V588.50 H402.98 V586.55 H404.30 V584.60 H405.60 V582.85 H406.90 V581.10 H408.20 V579.35 H409.50 V577.60 H411.83 V575.83 H414.17 V574.07 H416.50 V572.30 H418.27 V570.57 H420.03 V568.83 H421.80 V567.10 H422.37 V565.33 H422.93 V563.57 H423.50 V561.80 H425.25 V560.05 H427.00 V558.30 H432.30 V555.70 H437.50 V553.90 H439.25 V552.15 H441.00 V550.40 H442.75 V548.25 H444.50 V546.10 H445.56 V544.34 H446.62 V542.58 H447.68 V540.82 H448.74 V539.06 H449.80 V537.30 H450.84 V535.56 H451.88 V533.82 H452.92 V532.08 H453.96 V530.34 H455.00 V528.60 H456.32 V526.83 H457.65 V525.05 H458.98 V523.27 H460.30 V521.50 H461.62 V519.75 H462.95 V518.00 H464.28 V516.25 H465.60 V514.50 H466.64 V512.76 H467.68 V511.02 H468.72 V509.28 H469.76 V507.54 H470.80 V505.80 H471.68 V504.05 H472.55 V502.30 H473.43 V500.55 H474.30 V498.80 H475.20 V496.60 H476.10 V494.40 H480.40 V493.50 H481.10 V491.35 H481.80 V489.20 H483.10 V487.40 H484.40 V485.60 H488.80 V484.80 H491.40 V482.10 H494.00 V479.50 H497.50 V478.60 H501.90 V477.80 H502.75 V475.60 H503.60 V473.40 H507.10 V471.60 H510.60 V469.00 H514.10 V467.30 H517.70 V465.90 H522.00 V464.10 H529.00 V462.00 H536.00 V460.60 H543.00 V459.90 H547.40 V459.10" fill="none" stroke="#cf6c8f" stroke-width="1.35" stroke-linejoin="miter"/>
<path d="M399.00,592.40 H399.65 V590.45 H400.30 V588.50 H400.95 V586.55 H401.60 V584.60 H402.28 V582.85 H402.95 V581.10 H403.62 V579.35 H404.30 V577.60 H406.05 V575.85 H407.80 V574.10 H408.97 V572.33 H410.13 V570.57 H411.30 V568.80 H412.47 V567.07 H413.63 V565.33 H414.80 V563.60 H416.55 V561.85 H418.30 V560.10 H419.47 V558.33 H420.63 V556.57 H421.80 V554.80 H422.97 V553.07 H424.13 V551.33 H425.30 V549.60 H426.00 V547.84 H426.70 V546.08 H427.40 V544.32 H428.10 V542.56 H428.80 V540.80 H429.38 V539.05 H429.97 V537.30 H430.55 V535.55 H431.13 V533.80 H431.72 V532.05 H432.30 V530.30 H432.88 V528.55 H433.47 V526.80 H434.05 V525.05 H434.63 V523.30 H435.22 V521.55 H435.80 V519.80 H436.68 V518.05 H437.55 V516.30 H438.43 V514.55 H439.30 V512.80 H439.88 V510.90 H440.47 V509.00 H441.05 V507.10 H441.63 V505.20 H442.22 V503.30 H442.80 V501.40 H447.20 V500.50 H447.85 V498.75 H448.50 V497.00 H449.15 V495.25 H449.80 V493.50 H450.68 V491.75 H451.55 V490.00 H452.43 V488.25 H453.30 V486.50 H453.95 V484.75 H454.60 V483.00 H455.25 V481.25 H455.90 V479.50 H456.80 V477.75 H457.70 V476.00 H460.30 V474.30 H462.90 V471.60 H490.50 V471.60 H491.40 V469.40 H495.80 V469.00 H496.60 V467.30 H500.10 V466.90 H501.00 V465.20 H508.00 V464.60 H508.90 V462.90 H512.40 V462.50 H513.30 V461.10 H534.30 V461.10 H535.20 V459.10" fill="none" stroke="#86397f" stroke-width="1.35" stroke-linejoin="miter"/>
<path d="M399.90,592.40 H400.20 V588.63 H400.50 V584.87 H400.80 V581.10 H401.20 V577.60 H401.60 V574.10 H403.40 V573.20 H403.85 V568.40 H404.30 V563.60 H404.70 V560.10 H405.10 V556.60 H405.55 V551.35 H406.00 V546.10 H406.45 V540.85 H406.90 V535.60 H407.35 V530.30 H407.80 V525.00 H408.20 V520.65 H408.60 V516.30 H411.30 V515.40 H412.10 V510.20 H414.40 V509.30 H414.75 V505.80 H415.10 V502.30 H415.57 V498.50 H416.03 V494.70 H416.50 V490.90 H420.00 V490.00 H420.90 V484.80 H423.90 V483.90 H424.40 V474.30 H424.85 V469.90 H425.30 V465.50 H426.20 V459.10" fill="none" stroke="#382a4c" stroke-width="1.35" stroke-linejoin="miter"/>
</g>
<rect x="382.80" y="459.10" width="300.40" height="133.30" fill="none" stroke="#262626" stroke-width="0.85"/>
<line x1="391.30" y1="592.40" x2="391.30" y2="595.30" stroke="#262626" stroke-width="0.85"/>
<text x="384.77" y="604.90" font-size="9.21" fill="#262626" font-weight="normal" textLength="13.05" lengthAdjust="spacingAndGlyphs">0.0</text>
<line x1="433.95" y1="592.40" x2="433.95" y2="595.30" stroke="#262626" stroke-width="0.85"/>
<text x="427.54" y="604.90" font-size="9.21" fill="#262626" font-weight="normal" textLength="12.92" lengthAdjust="spacingAndGlyphs">0.1</text>
<line x1="476.60" y1="592.40" x2="476.60" y2="595.30" stroke="#262626" stroke-width="0.85"/>
<text x="470.22" y="604.90" font-size="9.21" fill="#262626" font-weight="normal" textLength="12.86" lengthAdjust="spacingAndGlyphs">0.2</text>
<line x1="519.25" y1="592.40" x2="519.25" y2="595.30" stroke="#262626" stroke-width="0.85"/>
<text x="512.78" y="604.90" font-size="9.21" fill="#262626" font-weight="normal" textLength="12.98" lengthAdjust="spacingAndGlyphs">0.3</text>
<line x1="561.90" y1="592.40" x2="561.90" y2="595.30" stroke="#262626" stroke-width="0.85"/>
<text x="555.33" y="604.90" font-size="9.21" fill="#262626" font-weight="normal" textLength="13.05" lengthAdjust="spacingAndGlyphs">0.4</text>
<line x1="604.55" y1="592.40" x2="604.55" y2="595.30" stroke="#262626" stroke-width="0.85"/>
<text x="598.12" y="604.90" font-size="9.21" fill="#262626" font-weight="normal" textLength="12.89" lengthAdjust="spacingAndGlyphs">0.5</text>
<line x1="647.20" y1="592.40" x2="647.20" y2="595.30" stroke="#262626" stroke-width="0.85"/>
<text x="640.66" y="604.90" font-size="9.21" fill="#262626" font-weight="normal" textLength="13.13" lengthAdjust="spacingAndGlyphs">0.6</text>
<line x1="379.90" y1="592.40" x2="382.80" y2="592.40" stroke="#262626" stroke-width="0.85"/>
<text x="364.31" y="595.80" font-size="9.21" fill="#262626" font-weight="normal" textLength="13.05" lengthAdjust="spacingAndGlyphs">0.0</text>
<line x1="379.90" y1="565.74" x2="382.80" y2="565.74" stroke="#262626" stroke-width="0.85"/>
<text x="364.60" y="569.14" font-size="9.21" fill="#262626" font-weight="normal" textLength="12.86" lengthAdjust="spacingAndGlyphs">0.2</text>
<line x1="379.90" y1="539.08" x2="382.80" y2="539.08" stroke="#262626" stroke-width="0.85"/>
<text x="364.23" y="542.48" font-size="9.21" fill="#262626" font-weight="normal" textLength="13.05" lengthAdjust="spacingAndGlyphs">0.4</text>
<line x1="379.90" y1="512.42" x2="382.80" y2="512.42" stroke="#262626" stroke-width="0.85"/>
<text x="364.28" y="515.82" font-size="9.21" fill="#262626" font-weight="normal" textLength="13.13" lengthAdjust="spacingAndGlyphs">0.6</text>
<line x1="379.90" y1="485.76" x2="382.80" y2="485.76" stroke="#262626" stroke-width="0.85"/>
<text x="364.33" y="489.16" font-size="9.21" fill="#262626" font-weight="normal" textLength="13.08" lengthAdjust="spacingAndGlyphs">0.8</text>
<line x1="379.90" y1="459.10" x2="382.80" y2="459.10" stroke="#262626" stroke-width="0.85"/>
<text x="364.34" y="462.50" font-size="9.21" fill="#262626" font-weight="normal" textLength="13.03" lengthAdjust="spacingAndGlyphs">1.0</text>
<text x="467.50" y="454.50" font-size="11.05" fill="#262626" font-weight="normal" textLength="130.80" lengthAdjust="spacingAndGlyphs">Evaulated by the clinician</text>
<text x="516.32" y="616.80" font-size="9.21" fill="#262626" font-weight="normal" textLength="33.01" lengthAdjust="spacingAndGlyphs">FI value</text>
<text x="337.30" y="526.65" font-size="9.21" fill="#262626" font-weight="normal" textLength="43.43" lengthAdjust="spacingAndGlyphs" transform="rotate(-90 359.10 526.65)">Proportion</text>
<rect x="557.40" y="534.50" width="122.00" height="54.00" rx="1.7" fill="#ffffff" fill-opacity="0.8" stroke="#d6d6d6" stroke-width="0.85"/>
<line x1="560.30" y1="541.90" x2="578.30" y2="541.90" stroke="#382a4c" stroke-width="1.5"/>
<text x="583.98" y="545.10" font-size="9.21" fill="#262626" font-weight="normal" textLength="90.87" lengthAdjust="spacingAndGlyphs">UPDRS item score 3+</text>
<line x1="560.30" y1="554.58" x2="578.30" y2="554.58" stroke="#86397f" stroke-width="1.5"/>
<text x="584.00" y="557.78" font-size="9.21" fill="#262626" font-weight="normal" textLength="83.82" lengthAdjust="spacingAndGlyphs">UPDRS item score 2</text>
<line x1="560.30" y1="567.26" x2="578.30" y2="567.26" stroke="#cf6c8f" stroke-width="1.5"/>
<text x="584.00" y="570.46" font-size="9.21" fill="#262626" font-weight="normal" textLength="83.88" lengthAdjust="spacingAndGlyphs">UPDRS item score 1</text>
<line x1="560.30" y1="579.94" x2="578.30" y2="579.94" stroke="#f2c6bd" stroke-width="1.5"/>
<text x="584.00" y="583.14" font-size="9.21" fill="#262626" font-weight="normal" textLength="84.01" lengthAdjust="spacingAndGlyphs">UPDRS item score 0</text>
<clipPath id="c6"><rect x="42.5" y="640.8" width="299.7" height="133.20000000000005"/></clipPath>
<g clip-path="url(#c6)">
<path d="M80.00,774.00 C80.63,773.90 82.45,774.62 83.80,773.40 C85.15,772.18 86.93,769.13 88.10,766.70 C89.27,764.27 90.07,761.58 90.80,758.80 C91.53,756.02 91.92,753.22 92.50,750.00 C93.08,746.78 93.72,743.58 94.30,739.50 C94.88,735.42 95.50,729.58 96.00,725.50 C96.50,721.42 96.80,719.62 97.30,715.00 C97.80,710.38 98.30,702.70 99.00,697.80 C99.70,692.90 100.77,688.18 101.50,685.60 C102.23,683.02 102.65,682.57 103.40,682.30 C104.15,682.03 104.83,682.05 106.00,684.00 C107.17,685.95 109.03,690.75 110.40,694.00 C111.77,697.25 113.10,700.00 114.20,703.50 C115.30,707.00 116.08,711.18 117.00,715.00 C117.92,718.82 118.82,722.75 119.70,726.40 C120.58,730.05 121.43,733.47 122.30,736.90 C123.17,740.33 123.88,744.23 124.90,747.00 C125.92,749.77 127.08,751.67 128.40,753.50 C129.72,755.33 131.27,756.38 132.80,758.00 C134.33,759.62 135.93,761.60 137.60,763.20 C139.27,764.80 141.23,766.43 142.80,767.60 C144.37,768.77 145.13,769.27 147.00,770.20 C148.87,771.13 151.50,772.57 154.00,773.20 C156.50,773.83 160.67,773.87 162.00,774.00 L162.00,774.00 L80.00,774.00 Z" fill="#2d1e3e" fill-opacity="0.25" stroke="none"/>
<path d="M80.00,774.00 C80.63,773.90 82.45,774.62 83.80,773.40 C85.15,772.18 86.93,769.13 88.10,766.70 C89.27,764.27 90.07,761.58 90.80,758.80 C91.53,756.02 91.92,753.22 92.50,750.00 C93.08,746.78 93.72,743.58 94.30,739.50 C94.88,735.42 95.50,729.58 96.00,725.50 C96.50,721.42 96.80,719.62 97.30,715.00 C97.80,710.38 98.30,702.70 99.00,697.80 C99.70,692.90 100.77,688.18 101.50,685.60 C102.23,683.02 102.65,682.57 103.40,682.30 C104.15,682.03 104.83,682.05 106.00,684.00 C107.17,685.95 109.03,690.75 110.40,694.00 C111.77,697.25 113.10,700.00 114.20,703.50 C115.30,707.00 116.08,711.18 117.00,715.00 C117.92,718.82 118.82,722.75 119.70,726.40 C120.58,730.05 121.43,733.47 122.30,736.90 C123.17,740.33 123.88,744.23 124.90,747.00 C125.92,749.77 127.08,751.67 128.40,753.50 C129.72,755.33 131.27,756.38 132.80,758.00 C134.33,759.62 135.93,761.60 137.60,763.20 C139.27,764.80 141.23,766.43 142.80,767.60 C144.37,768.77 145.13,769.27 147.00,770.20 C148.87,771.13 151.50,772.57 154.00,773.20 C156.50,773.83 160.67,773.87 162.00,774.00" fill="none" stroke="#382a4c" stroke-width="1.0" stroke-linejoin="round"/>
<path d="M70.00,774.00 C71.00,773.93 74.28,774.10 76.00,773.60 C77.72,773.10 79.00,772.15 80.30,771.00 C81.60,769.85 82.63,768.45 83.80,766.70 C84.97,764.95 86.13,762.98 87.30,760.50 C88.47,758.02 89.78,755.00 90.80,751.80 C91.82,748.60 92.53,745.68 93.40,741.30 C94.27,736.92 95.27,729.88 96.00,725.50 C96.73,721.12 96.88,720.42 97.80,715.00 C98.72,709.58 100.25,698.75 101.50,693.00 C102.75,687.25 104.03,684.08 105.30,680.50 C106.57,676.92 107.82,674.50 109.10,671.50 C110.38,668.50 111.47,665.75 113.00,662.50 C114.53,659.25 116.68,654.48 118.30,652.00 C119.92,649.52 121.47,648.42 122.70,647.60 C123.93,646.78 124.53,646.65 125.70,647.10 C126.87,647.55 128.45,648.32 129.70,650.30 C130.95,652.28 131.88,655.22 133.20,659.00 C134.52,662.78 136.47,668.92 137.60,673.00 C138.73,677.08 139.30,680.58 140.00,683.50 C140.70,686.42 141.07,687.28 141.80,690.50 C142.53,693.72 143.38,699.00 144.40,702.80 C145.42,706.60 146.58,710.08 147.90,713.30 C149.22,716.52 150.70,718.88 152.30,722.10 C153.90,725.32 155.75,729.10 157.50,732.60 C159.25,736.10 161.05,739.90 162.80,743.10 C164.55,746.30 166.25,749.03 168.00,751.80 C169.75,754.57 171.55,757.50 173.30,759.70 C175.05,761.90 176.47,763.53 178.50,765.00 C180.53,766.47 183.17,767.63 185.50,768.50 C187.83,769.37 189.87,769.62 192.50,770.20 C195.13,770.78 198.38,771.42 201.30,772.00 C204.22,772.58 206.88,773.37 210.00,773.70 C213.12,774.03 218.33,773.95 220.00,774.00 L220.00,774.00 L70.00,774.00 Z" fill="#834c7d" fill-opacity="0.25" stroke="none"/>
<path d="M70.00,774.00 C71.00,773.93 74.28,774.10 76.00,773.60 C77.72,773.10 79.00,772.15 80.30,771.00 C81.60,769.85 82.63,768.45 83.80,766.70 C84.97,764.95 86.13,762.98 87.30,760.50 C88.47,758.02 89.78,755.00 90.80,751.80 C91.82,748.60 92.53,745.68 93.40,741.30 C94.27,736.92 95.27,729.88 96.00,725.50 C96.73,721.12 96.88,720.42 97.80,715.00 C98.72,709.58 100.25,698.75 101.50,693.00 C102.75,687.25 104.03,684.08 105.30,680.50 C106.57,676.92 107.82,674.50 109.10,671.50 C110.38,668.50 111.47,665.75 113.00,662.50 C114.53,659.25 116.68,654.48 118.30,652.00 C119.92,649.52 121.47,648.42 122.70,647.60 C123.93,646.78 124.53,646.65 125.70,647.10 C126.87,647.55 128.45,648.32 129.70,650.30 C130.95,652.28 131.88,655.22 133.20,659.00 C134.52,662.78 136.47,668.92 137.60,673.00 C138.73,677.08 139.30,680.58 140.00,683.50 C140.70,686.42 141.07,687.28 141.80,690.50 C142.53,693.72 143.38,699.00 144.40,702.80 C145.42,706.60 146.58,710.08 147.90,713.30 C149.22,716.52 150.70,718.88 152.30,722.10 C153.90,725.32 155.75,729.10 157.50,732.60 C159.25,736.10 161.05,739.90 162.80,743.10 C164.55,746.30 166.25,749.03 168.00,751.80 C169.75,754.57 171.55,757.50 173.30,759.70 C175.05,761.90 176.47,763.53 178.50,765.00 C180.53,766.47 183.17,767.63 185.50,768.50 C187.83,769.37 189.87,769.62 192.50,770.20 C195.13,770.78 198.38,771.42 201.30,772.00 C204.22,772.58 206.88,773.37 210.00,773.70 C213.12,774.03 218.33,773.95 220.00,774.00" fill="none" stroke="#86397f" stroke-width="1.0" stroke-linejoin="round"/>
<path d="M60.00,774.00 C61.67,773.93 67.50,773.73 70.00,773.60 C72.50,773.47 73.28,773.63 75.00,773.20 C76.72,772.77 78.70,771.95 80.30,771.00 C81.90,770.05 83.30,768.52 84.60,767.50 C85.90,766.48 86.78,766.20 88.10,764.90 C89.42,763.60 91.03,761.73 92.50,759.70 C93.97,757.67 95.43,754.90 96.90,752.70 C98.37,750.50 99.85,748.40 101.30,746.50 C102.75,744.60 104.15,742.90 105.60,741.30 C107.05,739.70 108.53,738.37 110.00,736.90 C111.47,735.43 112.93,734.10 114.40,732.50 C115.87,730.90 117.33,729.05 118.80,727.30 C120.27,725.55 121.75,724.05 123.20,722.00 C124.65,719.95 125.68,718.08 127.50,715.00 C129.32,711.92 132.13,706.23 134.10,703.50 C136.07,700.77 137.57,699.63 139.30,698.60 C141.03,697.57 142.63,697.18 144.50,697.30 C146.37,697.42 148.62,698.10 150.50,699.30 C152.38,700.50 154.05,702.45 155.80,704.50 C157.55,706.55 159.25,708.97 161.00,711.60 C162.75,714.23 164.55,717.38 166.30,720.30 C168.05,723.22 169.75,726.47 171.50,729.10 C173.25,731.73 175.05,733.77 176.80,736.10 C178.55,738.43 180.25,740.77 182.00,743.10 C183.75,745.43 185.55,747.77 187.30,750.10 C189.05,752.43 190.75,755.07 192.50,757.10 C194.25,759.13 196.05,760.70 197.80,762.30 C199.55,763.90 200.97,765.30 203.00,766.70 C205.03,768.10 207.37,769.62 210.00,770.70 C212.63,771.78 215.47,772.65 218.80,773.20 C222.13,773.75 228.13,773.87 230.00,774.00 L230.00,774.00 L60.00,774.00 Z" fill="#cc7c9a" fill-opacity="0.25" stroke="none"/>
<path d="M60.00,774.00 C61.67,773.93 67.50,773.73 70.00,773.60 C72.50,773.47 73.28,773.63 75.00,773.20 C76.72,772.77 78.70,771.95 80.30,771.00 C81.90,770.05 83.30,768.52 84.60,767.50 C85.90,766.48 86.78,766.20 88.10,764.90 C89.42,763.60 91.03,761.73 92.50,759.70 C93.97,757.67 95.43,754.90 96.90,752.70 C98.37,750.50 99.85,748.40 101.30,746.50 C102.75,744.60 104.15,742.90 105.60,741.30 C107.05,739.70 108.53,738.37 110.00,736.90 C111.47,735.43 112.93,734.10 114.40,732.50 C115.87,730.90 117.33,729.05 118.80,727.30 C120.27,725.55 121.75,724.05 123.20,722.00 C124.65,719.95 125.68,718.08 127.50,715.00 C129.32,711.92 132.13,706.23 134.10,703.50 C136.07,700.77 137.57,699.63 139.30,698.60 C141.03,697.57 142.63,697.18 144.50,697.30 C146.37,697.42 148.62,698.10 150.50,699.30 C152.38,700.50 154.05,702.45 155.80,704.50 C157.55,706.55 159.25,708.97 161.00,711.60 C162.75,714.23 164.55,717.38 166.30,720.30 C168.05,723.22 169.75,726.47 171.50,729.10 C173.25,731.73 175.05,733.77 176.80,736.10 C178.55,738.43 180.25,740.77 182.00,743.10 C183.75,745.43 185.55,747.77 187.30,750.10 C189.05,752.43 190.75,755.07 192.50,757.10 C194.25,759.13 196.05,760.70 197.80,762.30 C199.55,763.90 200.97,765.30 203.00,766.70 C205.03,768.10 207.37,769.62 210.00,770.70 C212.63,771.78 215.47,772.65 218.80,773.20 C222.13,773.75 228.13,773.87 230.00,774.00" fill="none" stroke="#cf6c8f" stroke-width="1.0" stroke-linejoin="round"/>
<path d="M60.00,774.00 C62.50,773.80 71.03,773.58 75.00,772.80 C78.97,772.02 80.88,770.77 83.80,769.30 C86.72,767.83 89.58,766.05 92.50,764.00 C95.42,761.95 98.38,759.62 101.30,757.00 C104.22,754.38 107.08,751.37 110.00,748.30 C112.92,745.23 116.60,741.23 118.80,738.60 C121.00,735.97 121.75,734.53 123.20,732.50 C124.65,730.47 126.03,728.57 127.50,726.40 C128.97,724.23 130.32,722.15 132.00,719.50 C133.68,716.85 135.68,714.25 137.60,710.50 C139.52,706.75 141.63,701.50 143.50,697.00 C145.37,692.50 146.75,686.68 148.80,683.50 C150.85,680.32 153.77,679.00 155.80,677.90 C157.83,676.80 159.25,676.78 161.00,676.90 C162.75,677.02 164.55,677.50 166.30,678.60 C168.05,679.70 169.75,681.22 171.50,683.50 C173.25,685.78 175.05,689.08 176.80,692.30 C178.55,695.52 180.25,699.00 182.00,702.80 C183.75,706.60 185.55,711.02 187.30,715.10 C189.05,719.18 190.75,723.52 192.50,727.30 C194.25,731.08 196.05,734.58 197.80,737.80 C199.55,741.02 201.25,743.97 203.00,746.60 C204.75,749.23 206.53,751.85 208.30,753.60 C210.07,755.35 211.55,756.23 213.60,757.10 C215.65,757.97 218.27,758.40 220.60,758.80 C222.93,759.20 225.53,759.35 227.60,759.50 C229.67,759.65 231.48,759.60 233.00,759.70 C234.52,759.80 234.97,759.47 236.70,760.10 C238.43,760.73 240.88,762.18 243.40,763.50 C245.92,764.82 249.00,766.88 251.80,768.00 C254.60,769.12 257.12,769.73 260.20,770.20 C263.28,770.67 266.93,770.62 270.30,770.80 C273.67,770.98 277.05,771.13 280.40,771.30 C283.75,771.47 287.05,771.52 290.40,771.80 C293.75,772.08 297.13,772.67 300.50,773.00 C303.87,773.33 307.35,773.63 310.60,773.80 C313.85,773.97 318.43,773.97 320.00,774.00 L320.00,774.00 L60.00,774.00 Z" fill="#efcdc6" fill-opacity="0.25" stroke="none"/>
<path d="M60.00,774.00 C62.50,773.80 71.03,773.58 75.00,772.80 C78.97,772.02 80.88,770.77 83.80,769.30 C86.72,767.83 89.58,766.05 92.50,764.00 C95.42,761.95 98.38,759.62 101.30,757.00 C104.22,754.38 107.08,751.37 110.00,748.30 C112.92,745.23 116.60,741.23 118.80,738.60 C121.00,735.97 121.75,734.53 123.20,732.50 C124.65,730.47 126.03,728.57 127.50,726.40 C128.97,724.23 130.32,722.15 132.00,719.50 C133.68,716.85 135.68,714.25 137.60,710.50 C139.52,706.75 141.63,701.50 143.50,697.00 C145.37,692.50 146.75,686.68 148.80,683.50 C150.85,680.32 153.77,679.00 155.80,677.90 C157.83,676.80 159.25,676.78 161.00,676.90 C162.75,677.02 164.55,677.50 166.30,678.60 C168.05,679.70 169.75,681.22 171.50,683.50 C173.25,685.78 175.05,689.08 176.80,692.30 C178.55,695.52 180.25,699.00 182.00,702.80 C183.75,706.60 185.55,711.02 187.30,715.10 C189.05,719.18 190.75,723.52 192.50,727.30 C194.25,731.08 196.05,734.58 197.80,737.80 C199.55,741.02 201.25,743.97 203.00,746.60 C204.75,749.23 206.53,751.85 208.30,753.60 C210.07,755.35 211.55,756.23 213.60,757.10 C215.65,757.97 218.27,758.40 220.60,758.80 C222.93,759.20 225.53,759.35 227.60,759.50 C229.67,759.65 231.48,759.60 233.00,759.70 C234.52,759.80 234.97,759.47 236.70,760.10 C238.43,760.73 240.88,762.18 243.40,763.50 C245.92,764.82 249.00,766.88 251.80,768.00 C254.60,769.12 257.12,769.73 260.20,770.20 C263.28,770.67 266.93,770.62 270.30,770.80 C273.67,770.98 277.05,771.13 280.40,771.30 C283.75,771.47 287.05,771.52 290.40,771.80 C293.75,772.08 297.13,772.67 300.50,773.00 C303.87,773.33 307.35,773.63 310.60,773.80 C313.85,773.97 318.43,773.97 320.00,774.00" fill="none" stroke="#f2c6bd" stroke-width="1.0" stroke-linejoin="round"/>
</g>
<rect x="42.50" y="640.80" width="299.70" height="133.20" fill="none" stroke="#262626" stroke-width="0.85"/>
<line x1="90.50" y1="774.00" x2="90.50" y2="776.90" stroke="#262626" stroke-width="0.85"/>
<text x="83.97" y="786.50" font-size="9.21" fill="#262626" font-weight="normal" textLength="13.05" lengthAdjust="spacingAndGlyphs">0.0</text>
<line x1="151.56" y1="774.00" x2="151.56" y2="776.90" stroke="#262626" stroke-width="0.85"/>
<text x="145.18" y="786.50" font-size="9.21" fill="#262626" font-weight="normal" textLength="12.86" lengthAdjust="spacingAndGlyphs">0.2</text>
<line x1="212.62" y1="774.00" x2="212.62" y2="776.90" stroke="#262626" stroke-width="0.85"/>
<text x="206.05" y="786.50" font-size="9.21" fill="#262626" font-weight="normal" textLength="13.05" lengthAdjust="spacingAndGlyphs">0.4</text>
<line x1="273.68" y1="774.00" x2="273.68" y2="776.90" stroke="#262626" stroke-width="0.85"/>
<text x="267.14" y="786.50" font-size="9.21" fill="#262626" font-weight="normal" textLength="13.13" lengthAdjust="spacingAndGlyphs">0.6</text>
<line x1="334.74" y1="774.00" x2="334.74" y2="776.90" stroke="#262626" stroke-width="0.85"/>
<text x="328.22" y="786.50" font-size="9.21" fill="#262626" font-weight="normal" textLength="13.08" lengthAdjust="spacingAndGlyphs">0.8</text>
<line x1="39.60" y1="774.00" x2="42.50" y2="774.00" stroke="#262626" stroke-width="0.85"/>
<text x="24.01" y="777.40" font-size="9.21" fill="#262626" font-weight="normal" textLength="13.05" lengthAdjust="spacingAndGlyphs">0.0</text>
<line x1="39.60" y1="738.30" x2="42.50" y2="738.30" stroke="#262626" stroke-width="0.85"/>
<text x="24.19" y="741.70" font-size="9.21" fill="#262626" font-weight="normal" textLength="12.89" lengthAdjust="spacingAndGlyphs">0.5</text>
<line x1="39.60" y1="702.60" x2="42.50" y2="702.60" stroke="#262626" stroke-width="0.85"/>
<text x="24.04" y="706.00" font-size="9.21" fill="#262626" font-weight="normal" textLength="13.03" lengthAdjust="spacingAndGlyphs">1.0</text>
<line x1="39.60" y1="666.90" x2="42.50" y2="666.90" stroke="#262626" stroke-width="0.85"/>
<text x="24.22" y="670.30" font-size="9.21" fill="#262626" font-weight="normal" textLength="12.86" lengthAdjust="spacingAndGlyphs">1.5</text>
<text x="133.45" y="636.20" font-size="11.05" fill="#262626" font-weight="normal" textLength="117.61" lengthAdjust="spacingAndGlyphs">Evaulated by DL model</text>
<text x="175.67" y="798.40" font-size="9.21" fill="#262626" font-weight="normal" textLength="33.01" lengthAdjust="spacingAndGlyphs">FI value</text>
<text x="1.69" y="708.30" font-size="9.21" fill="#262626" font-weight="normal" textLength="31.84" lengthAdjust="spacingAndGlyphs" transform="rotate(-90 18.00 708.30)">Density</text>
<rect x="216.50" y="645.40" width="121.30" height="53.00" rx="1.7" fill="#ffffff" fill-opacity="0.8" stroke="#d6d6d6" stroke-width="0.85"/>
<rect x="219.10" y="649.80" width="17.0" height="6" fill="#2d1e3e" fill-opacity="0.25" stroke="#382a4c" stroke-width="0.9"/>
<text x="242.18" y="656.00" font-size="9.21" fill="#262626" font-weight="normal" textLength="90.87" lengthAdjust="spacingAndGlyphs">UPDRS item score 3+</text>
<rect x="219.10" y="662.48" width="17.0" height="6" fill="#834c7d" fill-opacity="0.25" stroke="#86397f" stroke-width="0.9"/>
<text x="242.20" y="668.68" font-size="9.21" fill="#262626" font-weight="normal" textLength="83.82" lengthAdjust="spacingAndGlyphs">UPDRS item score 2</text>
<rect x="219.10" y="675.16" width="17.0" height="6" fill="#cc7c9a" fill-opacity="0.25" stroke="#cf6c8f" stroke-width="0.9"/>
<text x="242.20" y="681.36" font-size="9.21" fill="#262626" font-weight="normal" textLength="83.88" lengthAdjust="spacingAndGlyphs">UPDRS item score 1</text>
<rect x="219.10" y="687.84" width="17.0" height="6" fill="#efcdc6" fill-opacity="0.25" stroke="#f2c6bd" stroke-width="0.9"/>
<text x="242.20" y="694.04" font-size="9.21" fill="#262626" font-weight="normal" textLength="84.01" lengthAdjust="spacingAndGlyphs">UPDRS item score 0</text>
<clipPath id="c7"><rect x="382.8" y="640.9" width="300.40000000000003" height="133.30000000000007"/></clipPath>
<g clip-path="url(#c7)">
<path d="M395.50,774.20 H402.50 V771.70 H411.30 V771.70 H418.30 V770.00 H420.90 V767.80 H423.50 V765.60 H427.00 V763.85 H430.50 V762.10 H437.50 V759.50 H444.50 V757.70 H451.50 V755.10 H453.87 V753.33 H456.23 V751.57 H458.60 V749.80 H460.93 V747.77 H463.27 V745.73 H465.60 V743.70 H467.93 V741.67 H470.27 V739.63 H472.60 V737.60 H473.90 V735.85 H475.20 V734.10 H476.50 V732.35 H477.80 V730.60 H478.35 V728.85 H478.90 V727.10 H479.45 V725.35 H480.00 V723.60 H481.17 V721.83 H482.33 V720.07 H483.50 V718.30 H484.60 V716.55 H485.70 V714.80 H486.80 V713.05 H487.90 V711.30 H489.00 V709.55 H490.10 V707.80 H491.20 V706.05 H492.30 V704.30 H493.60 V702.55 H494.90 V700.80 H496.20 V699.05 H497.50 V697.30 H498.60 V695.55 H499.70 V693.80 H500.80 V692.05 H501.90 V690.30 H504.10 V688.55 H506.30 V686.80 H507.73 V685.03 H509.17 V683.27 H510.60 V681.50 H512.07 V679.77 H513.53 V678.03 H515.00 V676.30 H517.65 V674.10 H520.30 V671.90 H522.90 V669.70 H525.50 V667.50 H527.25 V665.75 H529.00 V664.00 H530.35 V661.80 H531.70 V659.60 H536.00 V657.00 H543.00 V656.70 H550.00 V655.30 H558.80 V653.50 H567.60 V651.80 H575.00 V651.30 H578.20 V649.20 H590.30 V648.80 H591.10 V647.20 H595.90 V645.30 H603.90 V644.80 H605.50 V643.70 H610.30 V643.20 H611.10 V642.40 H641.60 V642.40 H642.40 V641.70 H669.70 V641.70 H669.80 V640.90" fill="none" stroke="#f2c6bd" stroke-width="1.35" stroke-linejoin="miter"/>
<path d="M399.00,774.20 H400.75 V772.48 H402.50 V770.75 H404.25 V769.02 H406.00 V767.30 H408.33 V765.57 H410.67 V763.83 H413.00 V762.10 H416.50 V759.90 H420.00 V757.70 H423.50 V755.50 H427.00 V753.30 H430.50 V751.15 H434.00 V749.00 H437.50 V747.65 H441.00 V746.30 H441.88 V744.55 H442.75 V742.80 H443.62 V741.05 H444.50 V739.30 H445.67 V737.57 H446.83 V735.83 H448.00 V734.10 H448.70 V732.34 H449.40 V730.58 H450.10 V728.82 H450.80 V727.06 H451.50 V725.30 H455.00 V722.70 H457.65 V720.50 H460.30 V718.30 H461.62 V716.55 H462.95 V714.80 H464.28 V713.05 H465.60 V711.30 H467.33 V709.53 H469.07 V707.77 H470.80 V706.00 H471.23 V704.25 H471.67 V702.50 H472.10 V700.75 H472.53 V699.00 H472.97 V697.25 H473.40 V695.50 H475.60 V693.75 H477.80 V692.00 H480.00 V692.00 H480.45 V690.25 H480.90 V688.50 H481.35 V686.75 H481.80 V685.00 H483.10 V683.25 H484.40 V681.50 H487.90 V679.80 H488.77 V678.03 H489.63 V676.27 H490.50 V674.50 H491.67 V672.77 H492.83 V671.03 H494.00 V669.30 H497.50 V668.40 H501.90 V666.60 H502.75 V664.45 H503.60 V662.30 H508.00 V659.60 H513.30 V657.90 H516.80 V655.30 H519.40 V653.50 H520.30 V651.75 H521.20 V650.00 H525.50 V648.30 H530.80 V646.50 H536.00 V644.80 H542.20 V643.90 H547.40 V642.10 H548.30 V640.90" fill="none" stroke="#cf6c8f" stroke-width="1.35" stroke-linejoin="miter"/>
<path d="M399.00,774.20 H399.88 V772.48 H400.75 V770.75 H401.62 V769.02 H402.50 V767.30 H403.82 V765.55 H405.15 V763.80 H406.48 V762.05 H407.80 V760.30 H409.10 V758.55 H410.40 V756.80 H411.70 V755.05 H413.00 V753.30 H414.32 V751.55 H415.65 V749.80 H416.98 V748.05 H418.30 V746.30 H419.47 V744.57 H420.63 V742.83 H421.80 V741.10 H422.68 V739.35 H423.55 V737.60 H424.43 V735.85 H425.30 V734.10 H426.34 V732.34 H427.38 V730.58 H428.42 V728.82 H429.46 V727.06 H430.50 V725.30 H431.56 V723.56 H432.62 V721.82 H433.68 V720.08 H434.74 V718.34 H435.80 V716.60 H436.68 V714.85 H437.55 V713.10 H438.43 V711.35 H439.30 V709.60 H439.80 V707.84 H440.30 V706.09 H440.80 V704.33 H441.30 V702.57 H441.80 V700.81 H442.30 V699.06 H442.80 V697.30 H445.00 V695.55 H447.20 V693.80 H448.07 V692.03 H448.93 V690.27 H449.80 V688.50 H450.68 V686.75 H451.55 V685.00 H452.43 V683.25 H453.30 V681.50 H454.00 V679.58 H454.70 V677.66 H455.40 V675.74 H456.10 V673.82 H456.80 V671.90 H460.30 V670.20 H462.95 V668.40 H465.60 V666.60 H469.10 V664.00 H470.27 V662.27 H471.43 V660.53 H472.60 V658.80 H476.10 V656.10 H480.00 V656.10 H482.60 V653.50 H487.00 V651.80 H488.75 V650.05 H490.50 V648.30 H492.25 V646.55 H494.00 V644.80 H499.30 V643.90 H506.30 V643.40 H511.50 V642.70 H513.30 V641.80 H535.20 V641.80 H536.00 V640.90" fill="none" stroke="#86397f" stroke-width="1.35" stroke-linejoin="miter"/>
<path d="M399.00,774.20 H399.90 V770.75 H400.80 V767.30 H401.65 V763.80 H402.50 V760.30 H403.40 V755.95 H404.30 V751.60 H405.15 V747.20 H406.00 V742.80 H406.70 V738.45 H407.40 V734.10 H408.00 V730.60 H408.60 V727.10 H409.05 V723.60 H409.50 V720.10 H411.30 V718.30 H411.70 V714.80 H412.10 V711.30 H413.90 V706.00 H415.60 V700.80 H418.30 V697.30 H420.00 V693.80 H422.70 V690.30 H423.50 V685.00 H424.40 V680.65 H425.30 V676.30 H426.15 V671.45 H427.00 V666.60 H429.70 V664.90 H431.40 V662.30 H433.20 V657.00 H441.00 V656.10 H441.90 V653.50 H446.30 V652.60 H447.20 V650.00 H452.40 V649.10 H453.30 V643.90 H468.20 V643.90 H468.70 V640.90" fill="none" stroke="#382a4c" stroke-width="1.35" stroke-linejoin="miter"/>
</g>
<rect x="382.80" y="640.90" width="300.40" height="133.30" fill="none" stroke="#262626" stroke-width="0.85"/>
<line x1="391.50" y1="774.20" x2="391.50" y2="777.10" stroke="#262626" stroke-width="0.85"/>
<text x="384.97" y="786.70" font-size="9.21" fill="#262626" font-weight="normal" textLength="13.05" lengthAdjust="spacingAndGlyphs">0.0</text>
<line x1="433.90" y1="774.20" x2="433.90" y2="777.10" stroke="#262626" stroke-width="0.85"/>
<text x="427.49" y="786.70" font-size="9.21" fill="#262626" font-weight="normal" textLength="12.92" lengthAdjust="spacingAndGlyphs">0.1</text>
<line x1="476.30" y1="774.20" x2="476.30" y2="777.10" stroke="#262626" stroke-width="0.85"/>
<text x="469.92" y="786.70" font-size="9.21" fill="#262626" font-weight="normal" textLength="12.86" lengthAdjust="spacingAndGlyphs">0.2</text>
<line x1="518.70" y1="774.20" x2="518.70" y2="777.10" stroke="#262626" stroke-width="0.85"/>
<text x="512.23" y="786.70" font-size="9.21" fill="#262626" font-weight="normal" textLength="12.98" lengthAdjust="spacingAndGlyphs">0.3</text>
<line x1="561.10" y1="774.20" x2="561.10" y2="777.10" stroke="#262626" stroke-width="0.85"/>
<text x="554.53" y="786.70" font-size="9.21" fill="#262626" font-weight="normal" textLength="13.05" lengthAdjust="spacingAndGlyphs">0.4</text>
<line x1="603.50" y1="774.20" x2="603.50" y2="777.10" stroke="#262626" stroke-width="0.85"/>
<text x="597.07" y="786.70" font-size="9.21" fill="#262626" font-weight="normal" textLength="12.89" lengthAdjust="spacingAndGlyphs">0.5</text>
<line x1="645.90" y1="774.20" x2="645.90" y2="777.10" stroke="#262626" stroke-width="0.85"/>
<text x="639.36" y="786.70" font-size="9.21" fill="#262626" font-weight="normal" textLength="13.13" lengthAdjust="spacingAndGlyphs">0.6</text>
<line x1="379.90" y1="774.20" x2="382.80" y2="774.20" stroke="#262626" stroke-width="0.85"/>
<text x="364.31" y="777.60" font-size="9.21" fill="#262626" font-weight="normal" textLength="13.05" lengthAdjust="spacingAndGlyphs">0.0</text>
<line x1="379.90" y1="747.54" x2="382.80" y2="747.54" stroke="#262626" stroke-width="0.85"/>
<text x="364.60" y="750.94" font-size="9.21" fill="#262626" font-weight="normal" textLength="12.86" lengthAdjust="spacingAndGlyphs">0.2</text>
<line x1="379.90" y1="720.88" x2="382.80" y2="720.88" stroke="#262626" stroke-width="0.85"/>
<text x="364.23" y="724.28" font-size="9.21" fill="#262626" font-weight="normal" textLength="13.05" lengthAdjust="spacingAndGlyphs">0.4</text>
<line x1="379.90" y1="694.22" x2="382.80" y2="694.22" stroke="#262626" stroke-width="0.85"/>
<text x="364.28" y="697.62" font-size="9.21" fill="#262626" font-weight="normal" textLength="13.13" lengthAdjust="spacingAndGlyphs">0.6</text>
<line x1="379.90" y1="667.56" x2="382.80" y2="667.56" stroke="#262626" stroke-width="0.85"/>
<text x="364.33" y="670.96" font-size="9.21" fill="#262626" font-weight="normal" textLength="13.08" lengthAdjust="spacingAndGlyphs">0.8</text>
<line x1="379.90" y1="640.90" x2="382.80" y2="640.90" stroke="#262626" stroke-width="0.85"/>
<text x="364.34" y="644.30" font-size="9.21" fill="#262626" font-weight="normal" textLength="13.03" lengthAdjust="spacingAndGlyphs">1.0</text>
<text x="474.10" y="636.30" font-size="11.05" fill="#262626" font-weight="normal" textLength="117.61" lengthAdjust="spacingAndGlyphs">Evaulated by DL model</text>
<text x="516.32" y="798.60" font-size="9.21" fill="#262626" font-weight="normal" textLength="33.01" lengthAdjust="spacingAndGlyphs">FI value</text>
<text x="337.30" y="708.45" font-size="9.21" fill="#262626" font-weight="normal" textLength="43.43" lengthAdjust="spacingAndGlyphs" transform="rotate(-90 359.10 708.45)">Proportion</text>
<rect x="557.90" y="716.60" width="121.50" height="52.80" rx="1.7" fill="#ffffff" fill-opacity="0.8" stroke="#d6d6d6" stroke-width="0.85"/>
<line x1="560.80" y1="724.00" x2="578.80" y2="724.00" stroke="#382a4c" stroke-width="1.5"/>
<text x="584.48" y="727.20" font-size="9.21" fill="#262626" font-weight="normal" textLength="90.87" lengthAdjust="spacingAndGlyphs">UPDRS item score 3+</text>
<line x1="560.80" y1="736.68" x2="578.80" y2="736.68" stroke="#86397f" stroke-width="1.5"/>
<text x="584.50" y="739.88" font-size="9.21" fill="#262626" font-weight="normal" textLength="83.82" lengthAdjust="spacingAndGlyphs">UPDRS item score 2</text>
<line x1="560.80" y1="749.36" x2="578.80" y2="749.36" stroke="#cf6c8f" stroke-width="1.5"/>
<text x="584.50" y="752.56" font-size="9.21" fill="#262626" font-weight="normal" textLength="83.88" lengthAdjust="spacingAndGlyphs">UPDRS item score 1</text>
<line x1="560.80" y1="762.04" x2="578.80" y2="762.04" stroke="#f2c6bd" stroke-width="1.5"/>
<text x="584.50" y="765.24" font-size="9.21" fill="#262626" font-weight="normal" textLength="84.01" lengthAdjust="spacingAndGlyphs">UPDRS item score 0</text>
</svg></body></html>
